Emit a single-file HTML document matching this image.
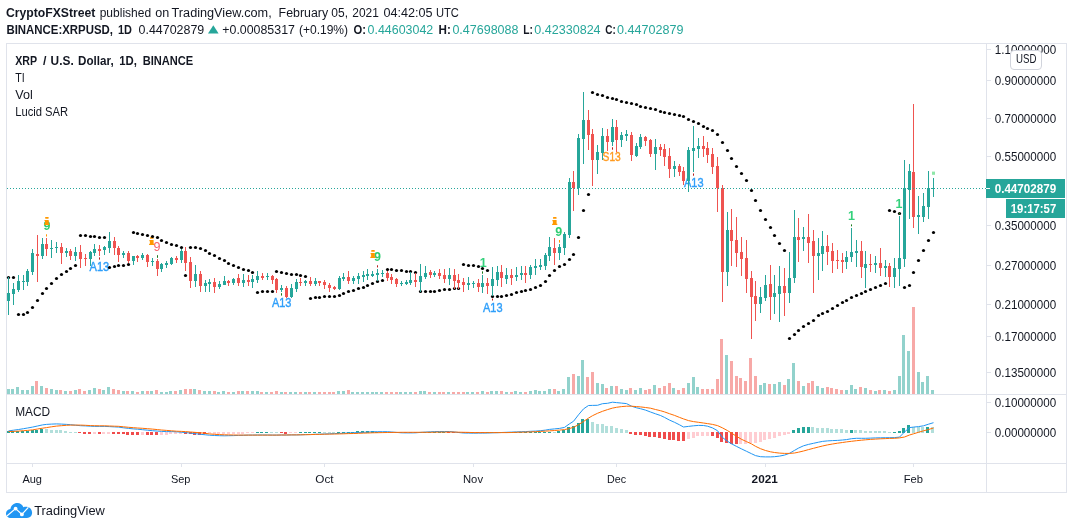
<!DOCTYPE html>
<html lang="en">
<head>
<meta charset="utf-8">
<title>XRP / U.S. Dollar, 1D, BINANCE - TradingView</title>
<style>
html,body{margin:0;padding:0;background:#fff;}
body{width:1073px;height:529px;overflow:hidden;}
svg{display:block;font-family:"Liberation Sans",sans-serif;}
</style>
</head>
<body>
<svg width="1073" height="529" viewBox="0 0 1073 529">
<rect x="0" y="0" width="1073" height="529" fill="#ffffff"/>
<text x="5.9" y="17" font-size="12.3" font-weight="bold" fill="#131722" textLength="89.5" lengthAdjust="spacingAndGlyphs">CryptoFXStreet</text>
<text x="99.7" y="17" font-size="12.3" fill="#131722" textLength="51.4" lengthAdjust="spacingAndGlyphs">published</text>
<text x="155.2" y="17" font-size="12.3" fill="#131722" textLength="14.0" lengthAdjust="spacingAndGlyphs">on</text>
<text x="171.6" y="17" font-size="12.3" fill="#131722" textLength="100.1" lengthAdjust="spacingAndGlyphs">TradingView.com,</text>
<text x="278.6" y="17" font-size="12.3" fill="#131722" textLength="49.5" lengthAdjust="spacingAndGlyphs">February</text>
<text x="331.3" y="17" font-size="12.3" fill="#131722" textLength="16.7" lengthAdjust="spacingAndGlyphs">05,</text>
<text x="352.3" y="17" font-size="12.3" fill="#131722" textLength="26.5" lengthAdjust="spacingAndGlyphs">2021</text>
<text x="383.4" y="17" font-size="12.3" fill="#131722" textLength="49.1" lengthAdjust="spacingAndGlyphs">04:42:05</text>
<text x="436.0" y="17" font-size="12.3" fill="#131722" textLength="22.9" lengthAdjust="spacingAndGlyphs">UTC</text>
<text x="6.4" y="34" font-size="12.3" font-weight="bold" fill="#131722" textLength="106.6" lengthAdjust="spacingAndGlyphs">BINANCE:XRPUSD,</text>
<text x="118" y="34" font-size="12.3" font-weight="bold" fill="#131722" textLength="14" lengthAdjust="spacingAndGlyphs">1D</text>
<text x="138.5" y="34" font-size="12.3" fill="#131722" textLength="65.8" lengthAdjust="spacingAndGlyphs">0.44702879</text>
<path d="M208 33.5 L213.3 25.3 L218.6 33.5 Z" fill="#26a69a"/>
<text x="222.3" y="34" font-size="12.3" fill="#131722" textLength="72.6" lengthAdjust="spacingAndGlyphs">+0.00085317</text>
<text x="298.9" y="34" font-size="12.3" fill="#131722" textLength="49.2" lengthAdjust="spacingAndGlyphs">(+0.19%)</text>
<text x="353.4" y="34" font-size="12.3" font-weight="bold" fill="#131722" textLength="12.5" lengthAdjust="spacingAndGlyphs">O:</text>
<text x="367.6" y="34" font-size="12.3" fill="#26a69a" textLength="65.6" lengthAdjust="spacingAndGlyphs">0.44603042</text>
<text x="438.6" y="34" font-size="12.3" font-weight="bold" fill="#131722" textLength="12.3" lengthAdjust="spacingAndGlyphs">H:</text>
<text x="452.4" y="34" font-size="12.3" fill="#26a69a" textLength="66.1" lengthAdjust="spacingAndGlyphs">0.47698088</text>
<text x="523.3" y="34" font-size="12.3" font-weight="bold" fill="#131722" textLength="9.7" lengthAdjust="spacingAndGlyphs">L:</text>
<text x="534.3" y="34" font-size="12.3" fill="#26a69a" textLength="66.3" lengthAdjust="spacingAndGlyphs">0.42330824</text>
<text x="605.3" y="34" font-size="12.3" font-weight="bold" fill="#131722" textLength="10.5" lengthAdjust="spacingAndGlyphs">C:</text>
<text x="617" y="34" font-size="12.3" fill="#26a69a" textLength="66.4" lengthAdjust="spacingAndGlyphs">0.44702879</text>
<rect x="6" y="43" width="1061" height="1" fill="#e0e3eb"/>
<rect x="6" y="492" width="1061" height="1" fill="#e0e3eb"/>
<rect x="6" y="43" width="1" height="450" fill="#e0e3eb"/>
<rect x="1066" y="43" width="1" height="450" fill="#e0e3eb"/>
<rect x="986" y="43" width="1" height="450" fill="#e0e3eb"/>
<rect x="6" y="394" width="1061" height="1" fill="#e0e3eb"/>
<rect x="6" y="463" width="1061" height="1" fill="#e0e3eb"/>
<g shape-rendering="crispEdges">
<rect x="7" y="389" width="3" height="5" fill="#92d2cc"/>
<rect x="11" y="389" width="3" height="5" fill="#92d2cc"/>
<rect x="16" y="387" width="3" height="7" fill="#92d2cc"/>
<rect x="21" y="390" width="3" height="4" fill="#92d2cc"/>
<rect x="26" y="390" width="3" height="4" fill="#92d2cc"/>
<rect x="31" y="386" width="3" height="8" fill="#92d2cc"/>
<rect x="35" y="381" width="3" height="13" fill="#f7a9a7"/>
<rect x="40" y="386" width="3" height="8" fill="#92d2cc"/>
<rect x="45" y="388" width="3" height="6" fill="#f7a9a7"/>
<rect x="50" y="389" width="3" height="5" fill="#92d2cc"/>
<rect x="55" y="390" width="3" height="4" fill="#92d2cc"/>
<rect x="59" y="390" width="3" height="4" fill="#f7a9a7"/>
<rect x="64" y="391" width="3" height="3" fill="#92d2cc"/>
<rect x="69" y="391" width="3" height="3" fill="#f7a9a7"/>
<rect x="74" y="390" width="3" height="4" fill="#92d2cc"/>
<rect x="78" y="389" width="3" height="5" fill="#f7a9a7"/>
<rect x="83" y="391" width="3" height="3" fill="#f7a9a7"/>
<rect x="88" y="390" width="3" height="4" fill="#92d2cc"/>
<rect x="93" y="388" width="3" height="6" fill="#92d2cc"/>
<rect x="98" y="389" width="3" height="5" fill="#f7a9a7"/>
<rect x="102" y="390" width="3" height="4" fill="#92d2cc"/>
<rect x="107" y="387" width="3" height="7" fill="#92d2cc"/>
<rect x="112" y="389" width="3" height="5" fill="#f7a9a7"/>
<rect x="117" y="390" width="3" height="4" fill="#f7a9a7"/>
<rect x="122" y="391" width="3" height="3" fill="#92d2cc"/>
<rect x="126" y="391" width="3" height="3" fill="#f7a9a7"/>
<rect x="131" y="391" width="3" height="3" fill="#92d2cc"/>
<rect x="136" y="392" width="3" height="2" fill="#f7a9a7"/>
<rect x="141" y="391" width="3" height="3" fill="#92d2cc"/>
<rect x="146" y="391" width="3" height="3" fill="#f7a9a7"/>
<rect x="150" y="391" width="3" height="3" fill="#92d2cc"/>
<rect x="155" y="390" width="3" height="4" fill="#f7a9a7"/>
<rect x="160" y="392" width="3" height="2" fill="#92d2cc"/>
<rect x="165" y="392" width="3" height="2" fill="#92d2cc"/>
<rect x="169" y="391" width="3" height="3" fill="#92d2cc"/>
<rect x="174" y="391" width="3" height="3" fill="#f7a9a7"/>
<rect x="179" y="390" width="3" height="4" fill="#92d2cc"/>
<rect x="184" y="389" width="3" height="5" fill="#f7a9a7"/>
<rect x="189" y="389" width="3" height="5" fill="#f7a9a7"/>
<rect x="193" y="389" width="3" height="5" fill="#92d2cc"/>
<rect x="198" y="390" width="3" height="4" fill="#f7a9a7"/>
<rect x="203" y="391" width="3" height="3" fill="#92d2cc"/>
<rect x="208" y="391" width="3" height="3" fill="#92d2cc"/>
<rect x="213" y="391" width="3" height="3" fill="#f7a9a7"/>
<rect x="217" y="392" width="3" height="2" fill="#92d2cc"/>
<rect x="222" y="391" width="3" height="3" fill="#92d2cc"/>
<rect x="227" y="392" width="3" height="2" fill="#f7a9a7"/>
<rect x="232" y="392" width="3" height="2" fill="#92d2cc"/>
<rect x="237" y="391" width="3" height="3" fill="#f7a9a7"/>
<rect x="241" y="391" width="3" height="3" fill="#92d2cc"/>
<rect x="246" y="391" width="3" height="3" fill="#f7a9a7"/>
<rect x="251" y="391" width="3" height="3" fill="#92d2cc"/>
<rect x="256" y="391" width="3" height="3" fill="#92d2cc"/>
<rect x="260" y="392" width="3" height="2" fill="#f7a9a7"/>
<rect x="265" y="392" width="3" height="2" fill="#92d2cc"/>
<rect x="270" y="392" width="3" height="2" fill="#f7a9a7"/>
<rect x="275" y="391" width="3" height="3" fill="#f7a9a7"/>
<rect x="280" y="392" width="3" height="2" fill="#92d2cc"/>
<rect x="284" y="392" width="3" height="2" fill="#f7a9a7"/>
<rect x="289" y="392" width="3" height="2" fill="#92d2cc"/>
<rect x="294" y="392" width="3" height="2" fill="#92d2cc"/>
<rect x="299" y="392" width="3" height="2" fill="#f7a9a7"/>
<rect x="304" y="392" width="3" height="2" fill="#92d2cc"/>
<rect x="308" y="392" width="3" height="2" fill="#f7a9a7"/>
<rect x="313" y="392" width="3" height="2" fill="#92d2cc"/>
<rect x="318" y="392" width="3" height="2" fill="#f7a9a7"/>
<rect x="323" y="392" width="3" height="2" fill="#f7a9a7"/>
<rect x="328" y="392" width="3" height="2" fill="#f7a9a7"/>
<rect x="332" y="392" width="3" height="2" fill="#f7a9a7"/>
<rect x="337" y="391" width="3" height="3" fill="#92d2cc"/>
<rect x="342" y="391" width="3" height="3" fill="#92d2cc"/>
<rect x="347" y="390" width="3" height="4" fill="#f7a9a7"/>
<rect x="351" y="392" width="3" height="2" fill="#92d2cc"/>
<rect x="356" y="392" width="3" height="2" fill="#92d2cc"/>
<rect x="361" y="392" width="3" height="2" fill="#92d2cc"/>
<rect x="366" y="392" width="3" height="2" fill="#92d2cc"/>
<rect x="371" y="392" width="3" height="2" fill="#92d2cc"/>
<rect x="375" y="392" width="3" height="2" fill="#92d2cc"/>
<rect x="380" y="392" width="3" height="2" fill="#92d2cc"/>
<rect x="385" y="392" width="3" height="2" fill="#f7a9a7"/>
<rect x="390" y="392" width="3" height="2" fill="#f7a9a7"/>
<rect x="395" y="392" width="3" height="2" fill="#f7a9a7"/>
<rect x="399" y="392" width="3" height="2" fill="#92d2cc"/>
<rect x="404" y="392" width="3" height="2" fill="#92d2cc"/>
<rect x="409" y="392" width="3" height="2" fill="#92d2cc"/>
<rect x="414" y="392" width="3" height="2" fill="#f7a9a7"/>
<rect x="419" y="391" width="3" height="3" fill="#92d2cc"/>
<rect x="423" y="391" width="3" height="3" fill="#92d2cc"/>
<rect x="428" y="392" width="3" height="2" fill="#f7a9a7"/>
<rect x="433" y="392" width="3" height="2" fill="#92d2cc"/>
<rect x="438" y="392" width="3" height="2" fill="#f7a9a7"/>
<rect x="442" y="392" width="3" height="2" fill="#f7a9a7"/>
<rect x="447" y="392" width="3" height="2" fill="#92d2cc"/>
<rect x="452" y="392" width="3" height="2" fill="#f7a9a7"/>
<rect x="457" y="392" width="3" height="2" fill="#f7a9a7"/>
<rect x="462" y="392" width="3" height="2" fill="#f7a9a7"/>
<rect x="466" y="392" width="3" height="2" fill="#92d2cc"/>
<rect x="471" y="392" width="3" height="2" fill="#92d2cc"/>
<rect x="476" y="392" width="3" height="2" fill="#f7a9a7"/>
<rect x="481" y="391" width="3" height="3" fill="#92d2cc"/>
<rect x="486" y="392" width="3" height="2" fill="#f7a9a7"/>
<rect x="490" y="391" width="3" height="3" fill="#92d2cc"/>
<rect x="495" y="391" width="3" height="3" fill="#92d2cc"/>
<rect x="500" y="391" width="3" height="3" fill="#f7a9a7"/>
<rect x="505" y="392" width="3" height="2" fill="#92d2cc"/>
<rect x="510" y="392" width="3" height="2" fill="#f7a9a7"/>
<rect x="514" y="391" width="3" height="3" fill="#92d2cc"/>
<rect x="519" y="392" width="3" height="2" fill="#92d2cc"/>
<rect x="524" y="392" width="3" height="2" fill="#f7a9a7"/>
<rect x="529" y="391" width="3" height="3" fill="#92d2cc"/>
<rect x="534" y="390" width="3" height="4" fill="#92d2cc"/>
<rect x="538" y="391" width="3" height="3" fill="#92d2cc"/>
<rect x="543" y="391" width="3" height="3" fill="#92d2cc"/>
<rect x="548" y="389" width="3" height="5" fill="#92d2cc"/>
<rect x="553" y="389" width="3" height="5" fill="#f7a9a7"/>
<rect x="557" y="391" width="3" height="3" fill="#92d2cc"/>
<rect x="562" y="389" width="3" height="5" fill="#92d2cc"/>
<rect x="567" y="377" width="3" height="17" fill="#92d2cc"/>
<rect x="572" y="374" width="3" height="20" fill="#f7a9a7"/>
<rect x="577" y="376" width="3" height="18" fill="#92d2cc"/>
<rect x="581" y="360" width="3" height="34" fill="#92d2cc"/>
<rect x="586" y="377" width="3" height="17" fill="#f7a9a7"/>
<rect x="591" y="372" width="3" height="22" fill="#f7a9a7"/>
<rect x="596" y="383" width="3" height="11" fill="#92d2cc"/>
<rect x="601" y="384" width="3" height="10" fill="#92d2cc"/>
<rect x="605" y="388" width="3" height="6" fill="#f7a9a7"/>
<rect x="610" y="386" width="3" height="8" fill="#92d2cc"/>
<rect x="615" y="386" width="3" height="8" fill="#f7a9a7"/>
<rect x="620" y="389" width="3" height="5" fill="#92d2cc"/>
<rect x="625" y="390" width="3" height="4" fill="#92d2cc"/>
<rect x="629" y="388" width="3" height="6" fill="#f7a9a7"/>
<rect x="634" y="390" width="3" height="4" fill="#92d2cc"/>
<rect x="639" y="388" width="3" height="6" fill="#92d2cc"/>
<rect x="644" y="390" width="3" height="4" fill="#f7a9a7"/>
<rect x="648" y="389" width="3" height="5" fill="#f7a9a7"/>
<rect x="653" y="385" width="3" height="9" fill="#92d2cc"/>
<rect x="658" y="388" width="3" height="6" fill="#f7a9a7"/>
<rect x="663" y="386" width="3" height="8" fill="#f7a9a7"/>
<rect x="668" y="383" width="3" height="11" fill="#f7a9a7"/>
<rect x="672" y="388" width="3" height="6" fill="#92d2cc"/>
<rect x="677" y="390" width="3" height="4" fill="#f7a9a7"/>
<rect x="682" y="388" width="3" height="6" fill="#f7a9a7"/>
<rect x="687" y="383" width="3" height="11" fill="#92d2cc"/>
<rect x="692" y="377" width="3" height="17" fill="#92d2cc"/>
<rect x="696" y="387" width="3" height="7" fill="#92d2cc"/>
<rect x="701" y="389" width="3" height="5" fill="#f7a9a7"/>
<rect x="706" y="389" width="3" height="5" fill="#f7a9a7"/>
<rect x="711" y="389" width="3" height="5" fill="#f7a9a7"/>
<rect x="716" y="379" width="3" height="15" fill="#f7a9a7"/>
<rect x="720" y="339" width="3" height="55" fill="#f7a9a7"/>
<rect x="725" y="355" width="3" height="39" fill="#92d2cc"/>
<rect x="730" y="361" width="3" height="33" fill="#f7a9a7"/>
<rect x="735" y="376" width="3" height="18" fill="#f7a9a7"/>
<rect x="739" y="378" width="3" height="16" fill="#f7a9a7"/>
<rect x="744" y="381" width="3" height="13" fill="#f7a9a7"/>
<rect x="749" y="358" width="3" height="36" fill="#f7a9a7"/>
<rect x="754" y="376" width="3" height="18" fill="#f7a9a7"/>
<rect x="759" y="385" width="3" height="9" fill="#92d2cc"/>
<rect x="763" y="383" width="3" height="11" fill="#92d2cc"/>
<rect x="768" y="384" width="3" height="10" fill="#f7a9a7"/>
<rect x="773" y="384" width="3" height="10" fill="#92d2cc"/>
<rect x="778" y="382" width="3" height="12" fill="#92d2cc"/>
<rect x="783" y="385" width="3" height="9" fill="#f7a9a7"/>
<rect x="787" y="379" width="3" height="15" fill="#92d2cc"/>
<rect x="792" y="363" width="3" height="31" fill="#92d2cc"/>
<rect x="797" y="381" width="3" height="13" fill="#f7a9a7"/>
<rect x="802" y="386" width="3" height="8" fill="#92d2cc"/>
<rect x="807" y="383" width="3" height="11" fill="#f7a9a7"/>
<rect x="811" y="381" width="3" height="13" fill="#f7a9a7"/>
<rect x="816" y="386" width="3" height="8" fill="#92d2cc"/>
<rect x="821" y="388" width="3" height="6" fill="#92d2cc"/>
<rect x="826" y="387" width="3" height="7" fill="#f7a9a7"/>
<rect x="830" y="388" width="3" height="6" fill="#f7a9a7"/>
<rect x="835" y="389" width="3" height="5" fill="#f7a9a7"/>
<rect x="840" y="390" width="3" height="4" fill="#f7a9a7"/>
<rect x="845" y="390" width="3" height="4" fill="#92d2cc"/>
<rect x="850" y="385" width="3" height="9" fill="#92d2cc"/>
<rect x="854" y="389" width="3" height="5" fill="#92d2cc"/>
<rect x="859" y="387" width="3" height="7" fill="#f7a9a7"/>
<rect x="864" y="388" width="3" height="6" fill="#92d2cc"/>
<rect x="869" y="390" width="3" height="4" fill="#f7a9a7"/>
<rect x="874" y="391" width="3" height="3" fill="#92d2cc"/>
<rect x="878" y="390" width="3" height="4" fill="#f7a9a7"/>
<rect x="883" y="390" width="3" height="4" fill="#92d2cc"/>
<rect x="888" y="391" width="3" height="3" fill="#f7a9a7"/>
<rect x="893" y="390" width="3" height="4" fill="#92d2cc"/>
<rect x="898" y="376" width="3" height="18" fill="#92d2cc"/>
<rect x="902" y="335" width="3" height="59" fill="#92d2cc"/>
<rect x="907" y="351" width="3" height="43" fill="#92d2cc"/>
<rect x="912" y="307" width="3" height="87" fill="#f7a9a7"/>
<rect x="917" y="372" width="3" height="22" fill="#92d2cc"/>
<rect x="921" y="382" width="3" height="12" fill="#92d2cc"/>
<rect x="926" y="376" width="3" height="18" fill="#92d2cc"/>
<rect x="931" y="390" width="3" height="4" fill="#92d2cc"/>
</g>
<text x="46.9" y="230.2" font-size="12.5" text-anchor="middle" fill="#2ecc71" font-weight="bold">9</text>
<text x="89.6" y="271.0" font-size="12.5" fill="#2f9ffa" stroke="#2f9ffa" stroke-width="0.4" textLength="19.6" lengthAdjust="spacingAndGlyphs">A13</text>
<text x="156.9" y="251.0" font-size="12.5" text-anchor="middle" fill="#f7606b">9</text>
<text x="271.9" y="306.9" font-size="12.5" fill="#2f9ffa" stroke="#2f9ffa" stroke-width="0.4" textLength="19.6" lengthAdjust="spacingAndGlyphs">A13</text>
<text x="377.5" y="261.0" font-size="12.5" text-anchor="middle" fill="#2ecc71" font-weight="bold">9</text>
<text x="483.3" y="266.6" font-size="12.5" text-anchor="middle" fill="#34d17c" font-weight="bold">1</text>
<text x="483.0" y="312.0" font-size="12.5" fill="#2f9ffa" stroke="#2f9ffa" stroke-width="0.4" textLength="19.6" lengthAdjust="spacingAndGlyphs">A13</text>
<text x="558.8" y="235.9" font-size="12.5" text-anchor="middle" fill="#2ecc71" font-weight="bold">9</text>
<text x="602.6" y="161.0" font-size="12.5" fill="#ff9a1f" stroke="#ff9a1f" stroke-width="0.4" textLength="18.2" lengthAdjust="spacingAndGlyphs">S13</text>
<text x="684.0" y="186.9" font-size="12.5" fill="#2f9ffa" stroke="#2f9ffa" stroke-width="0.4" textLength="19.6" lengthAdjust="spacingAndGlyphs">A13</text>
<text x="851.4" y="219.8" font-size="12.5" text-anchor="middle" fill="#34d17c" font-weight="bold">1</text>
<text x="899.1" y="207.8" font-size="12.5" text-anchor="middle" fill="#34d17c" font-weight="bold">1</text>
<rect x="45.1" y="217.0" width="3.6" height="1.7" rx="0.6" fill="#ff9800"/>
<path d="M44.5 220.0h4.2v3.7h0.7v1.2h-5.2v-1.2h0.8v-2.6h-0.5z" fill="#ff9800"/>
<rect x="150.0" y="237.1" width="3.6" height="1.7" rx="0.6" fill="#ff9800"/>
<path d="M149.4 240.1h4.2v3.7h0.7v1.2h-5.2v-1.2h0.8v-2.6h-0.5z" fill="#ff9800"/>
<rect x="371.2" y="250.1" width="3.6" height="1.7" rx="0.6" fill="#ff9800"/>
<path d="M370.6 253.1h4.2v3.7h0.7v1.2h-5.2v-1.2h0.8v-2.6h-0.5z" fill="#ff9800"/>
<rect x="553.0" y="217.1" width="3.6" height="1.7" rx="0.6" fill="#ff9800"/>
<path d="M552.4 220.1h4.2v3.7h0.7v1.2h-5.2v-1.2h0.8v-2.6h-0.5z" fill="#ff9800"/>
<rect x="932" y="171.6" width="3" height="3.2" fill="#8ee6a8"/>
<circle cx="8.5" cy="277.5" r="1.6" fill="#000"/>
<circle cx="13.5" cy="277.5" r="1.6" fill="#000"/>
<circle cx="18.5" cy="314.5" r="1.6" fill="#000"/>
<circle cx="23.5" cy="314.5" r="1.6" fill="#000"/>
<circle cx="27.5" cy="312.5" r="1.6" fill="#000"/>
<circle cx="32.5" cy="307.5" r="1.6" fill="#000"/>
<circle cx="37.5" cy="300.5" r="1.6" fill="#000"/>
<circle cx="42.5" cy="293.5" r="1.6" fill="#000"/>
<circle cx="46.5" cy="288.5" r="1.6" fill="#000"/>
<circle cx="51.5" cy="283.5" r="1.6" fill="#000"/>
<circle cx="56.5" cy="278.5" r="1.6" fill="#000"/>
<circle cx="61.5" cy="274.5" r="1.6" fill="#000"/>
<circle cx="66.5" cy="271.5" r="1.6" fill="#000"/>
<circle cx="70.5" cy="268.5" r="1.6" fill="#000"/>
<circle cx="75.5" cy="265.5" r="1.6" fill="#000"/>
<circle cx="80.5" cy="235.5" r="1.6" fill="#000"/>
<circle cx="85.5" cy="235.5" r="1.6" fill="#000"/>
<circle cx="90.5" cy="236.5" r="1.6" fill="#000"/>
<circle cx="94.5" cy="236.5" r="1.6" fill="#000"/>
<circle cx="99.5" cy="237.5" r="1.6" fill="#000"/>
<circle cx="104.5" cy="237.5" r="1.6" fill="#000"/>
<circle cx="109.5" cy="267.5" r="1.6" fill="#000"/>
<circle cx="114.5" cy="266.5" r="1.6" fill="#000"/>
<circle cx="118.5" cy="265.5" r="1.6" fill="#000"/>
<circle cx="123.5" cy="265.5" r="1.6" fill="#000"/>
<circle cx="128.5" cy="264.5" r="1.6" fill="#000"/>
<circle cx="133.5" cy="232.5" r="1.6" fill="#000"/>
<circle cx="137.5" cy="233.5" r="1.6" fill="#000"/>
<circle cx="142.5" cy="234.5" r="1.6" fill="#000"/>
<circle cx="147.5" cy="235.5" r="1.6" fill="#000"/>
<circle cx="152.5" cy="236.5" r="1.6" fill="#000"/>
<circle cx="157.5" cy="237.5" r="1.6" fill="#000"/>
<circle cx="161.5" cy="240.5" r="1.6" fill="#000"/>
<circle cx="166.5" cy="242.5" r="1.6" fill="#000"/>
<circle cx="171.5" cy="244.5" r="1.6" fill="#000"/>
<circle cx="176.5" cy="245.5" r="1.6" fill="#000"/>
<circle cx="181.5" cy="247.5" r="1.6" fill="#000"/>
<circle cx="185.5" cy="275.5" r="1.6" fill="#000"/>
<circle cx="190.5" cy="247.5" r="1.6" fill="#000"/>
<circle cx="195.5" cy="247.5" r="1.6" fill="#000"/>
<circle cx="200.5" cy="248.5" r="1.6" fill="#000"/>
<circle cx="205.5" cy="250.5" r="1.6" fill="#000"/>
<circle cx="209.5" cy="253.5" r="1.6" fill="#000"/>
<circle cx="214.5" cy="255.5" r="1.6" fill="#000"/>
<circle cx="219.5" cy="258.5" r="1.6" fill="#000"/>
<circle cx="224.5" cy="260.5" r="1.6" fill="#000"/>
<circle cx="228.5" cy="263.5" r="1.6" fill="#000"/>
<circle cx="233.5" cy="265.5" r="1.6" fill="#000"/>
<circle cx="238.5" cy="267.5" r="1.6" fill="#000"/>
<circle cx="243.5" cy="269.5" r="1.6" fill="#000"/>
<circle cx="248.5" cy="270.5" r="1.6" fill="#000"/>
<circle cx="252.5" cy="272.5" r="1.6" fill="#000"/>
<circle cx="257.5" cy="292.5" r="1.6" fill="#000"/>
<circle cx="262.5" cy="291.5" r="1.6" fill="#000"/>
<circle cx="267.5" cy="291.5" r="1.6" fill="#000"/>
<circle cx="272.5" cy="291.5" r="1.6" fill="#000"/>
<circle cx="276.5" cy="271.5" r="1.6" fill="#000"/>
<circle cx="281.5" cy="272.5" r="1.6" fill="#000"/>
<circle cx="286.5" cy="273.5" r="1.6" fill="#000"/>
<circle cx="291.5" cy="274.5" r="1.6" fill="#000"/>
<circle cx="296.5" cy="274.5" r="1.6" fill="#000"/>
<circle cx="300.5" cy="275.5" r="1.6" fill="#000"/>
<circle cx="305.5" cy="276.5" r="1.6" fill="#000"/>
<circle cx="310.5" cy="298.5" r="1.6" fill="#000"/>
<circle cx="315.5" cy="297.5" r="1.6" fill="#000"/>
<circle cx="319.5" cy="297.5" r="1.6" fill="#000"/>
<circle cx="324.5" cy="296.5" r="1.6" fill="#000"/>
<circle cx="329.5" cy="296.5" r="1.6" fill="#000"/>
<circle cx="334.5" cy="296.5" r="1.6" fill="#000"/>
<circle cx="339.5" cy="295.5" r="1.6" fill="#000"/>
<circle cx="343.5" cy="293.5" r="1.6" fill="#000"/>
<circle cx="348.5" cy="291.5" r="1.6" fill="#000"/>
<circle cx="353.5" cy="290.5" r="1.6" fill="#000"/>
<circle cx="358.5" cy="288.5" r="1.6" fill="#000"/>
<circle cx="363.5" cy="287.5" r="1.6" fill="#000"/>
<circle cx="367.5" cy="285.5" r="1.6" fill="#000"/>
<circle cx="372.5" cy="283.5" r="1.6" fill="#000"/>
<circle cx="377.5" cy="281.5" r="1.6" fill="#000"/>
<circle cx="382.5" cy="280.5" r="1.6" fill="#000"/>
<circle cx="387.5" cy="269.5" r="1.6" fill="#000"/>
<circle cx="391.5" cy="269.5" r="1.6" fill="#000"/>
<circle cx="396.5" cy="270.5" r="1.6" fill="#000"/>
<circle cx="401.5" cy="270.5" r="1.6" fill="#000"/>
<circle cx="406.5" cy="271.5" r="1.6" fill="#000"/>
<circle cx="410.5" cy="271.5" r="1.6" fill="#000"/>
<circle cx="415.5" cy="272.5" r="1.6" fill="#000"/>
<circle cx="420.5" cy="291.5" r="1.6" fill="#000"/>
<circle cx="425.5" cy="291.5" r="1.6" fill="#000"/>
<circle cx="430.5" cy="291.5" r="1.6" fill="#000"/>
<circle cx="434.5" cy="291.5" r="1.6" fill="#000"/>
<circle cx="439.5" cy="290.5" r="1.6" fill="#000"/>
<circle cx="444.5" cy="289.5" r="1.6" fill="#000"/>
<circle cx="449.5" cy="289.5" r="1.6" fill="#000"/>
<circle cx="454.5" cy="288.5" r="1.6" fill="#000"/>
<circle cx="458.5" cy="288.5" r="1.6" fill="#000"/>
<circle cx="463.5" cy="264.5" r="1.6" fill="#000"/>
<circle cx="468.5" cy="265.5" r="1.6" fill="#000"/>
<circle cx="473.5" cy="265.5" r="1.6" fill="#000"/>
<circle cx="478.5" cy="266.5" r="1.6" fill="#000"/>
<circle cx="482.5" cy="268.5" r="1.6" fill="#000"/>
<circle cx="487.5" cy="270.5" r="1.6" fill="#000"/>
<circle cx="492.5" cy="296.5" r="1.6" fill="#000"/>
<circle cx="497.5" cy="296.5" r="1.6" fill="#000"/>
<circle cx="501.5" cy="296.5" r="1.6" fill="#000"/>
<circle cx="506.5" cy="295.5" r="1.6" fill="#000"/>
<circle cx="511.5" cy="294.5" r="1.6" fill="#000"/>
<circle cx="516.5" cy="292.5" r="1.6" fill="#000"/>
<circle cx="521.5" cy="291.5" r="1.6" fill="#000"/>
<circle cx="525.5" cy="290.5" r="1.6" fill="#000"/>
<circle cx="530.5" cy="289.5" r="1.6" fill="#000"/>
<circle cx="535.5" cy="287.5" r="1.6" fill="#000"/>
<circle cx="540.5" cy="285.5" r="1.6" fill="#000"/>
<circle cx="545.5" cy="281.5" r="1.6" fill="#000"/>
<circle cx="549.5" cy="275.5" r="1.6" fill="#000"/>
<circle cx="554.5" cy="270.5" r="1.6" fill="#000"/>
<circle cx="559.5" cy="266.5" r="1.6" fill="#000"/>
<circle cx="564.5" cy="264.5" r="1.6" fill="#000"/>
<circle cx="569.5" cy="259.5" r="1.6" fill="#000"/>
<circle cx="573.5" cy="254.5" r="1.6" fill="#000"/>
<circle cx="578.5" cy="237.5" r="1.6" fill="#000"/>
<circle cx="583.5" cy="210.5" r="1.6" fill="#000"/>
<circle cx="588.5" cy="194.5" r="1.6" fill="#000"/>
<circle cx="592.5" cy="92.5" r="1.6" fill="#000"/>
<circle cx="597.5" cy="94.5" r="1.6" fill="#000"/>
<circle cx="602.5" cy="95.5" r="1.6" fill="#000"/>
<circle cx="607.5" cy="97.5" r="1.6" fill="#000"/>
<circle cx="612.5" cy="98.5" r="1.6" fill="#000"/>
<circle cx="616.5" cy="99.5" r="1.6" fill="#000"/>
<circle cx="621.5" cy="101.5" r="1.6" fill="#000"/>
<circle cx="626.5" cy="102.5" r="1.6" fill="#000"/>
<circle cx="631.5" cy="103.5" r="1.6" fill="#000"/>
<circle cx="636.5" cy="104.5" r="1.6" fill="#000"/>
<circle cx="640.5" cy="106.5" r="1.6" fill="#000"/>
<circle cx="645.5" cy="107.5" r="1.6" fill="#000"/>
<circle cx="650.5" cy="108.5" r="1.6" fill="#000"/>
<circle cx="655.5" cy="109.5" r="1.6" fill="#000"/>
<circle cx="660.5" cy="111.5" r="1.6" fill="#000"/>
<circle cx="664.5" cy="112.5" r="1.6" fill="#000"/>
<circle cx="669.5" cy="113.5" r="1.6" fill="#000"/>
<circle cx="674.5" cy="114.5" r="1.6" fill="#000"/>
<circle cx="679.5" cy="115.5" r="1.6" fill="#000"/>
<circle cx="683.5" cy="116.5" r="1.6" fill="#000"/>
<circle cx="688.5" cy="119.5" r="1.6" fill="#000"/>
<circle cx="693.5" cy="121.5" r="1.6" fill="#000"/>
<circle cx="698.5" cy="123.5" r="1.6" fill="#000"/>
<circle cx="703.5" cy="126.5" r="1.6" fill="#000"/>
<circle cx="707.5" cy="128.5" r="1.6" fill="#000"/>
<circle cx="712.5" cy="130.5" r="1.6" fill="#000"/>
<circle cx="717.5" cy="134.5" r="1.6" fill="#000"/>
<circle cx="722.5" cy="142.5" r="1.6" fill="#000"/>
<circle cx="727.5" cy="150.5" r="1.6" fill="#000"/>
<circle cx="731.5" cy="158.5" r="1.6" fill="#000"/>
<circle cx="736.5" cy="166.5" r="1.6" fill="#000"/>
<circle cx="741.5" cy="173.5" r="1.6" fill="#000"/>
<circle cx="746.5" cy="180.5" r="1.6" fill="#000"/>
<circle cx="751.5" cy="190.5" r="1.6" fill="#000"/>
<circle cx="755.5" cy="200.5" r="1.6" fill="#000"/>
<circle cx="760.5" cy="210.5" r="1.6" fill="#000"/>
<circle cx="765.5" cy="219.5" r="1.6" fill="#000"/>
<circle cx="770.5" cy="227.5" r="1.6" fill="#000"/>
<circle cx="774.5" cy="235.5" r="1.6" fill="#000"/>
<circle cx="779.5" cy="243.5" r="1.6" fill="#000"/>
<circle cx="784.5" cy="250.5" r="1.6" fill="#000"/>
<circle cx="789.5" cy="338.5" r="1.6" fill="#000"/>
<circle cx="794.5" cy="334.5" r="1.6" fill="#000"/>
<circle cx="798.5" cy="330.5" r="1.6" fill="#000"/>
<circle cx="803.5" cy="326.5" r="1.6" fill="#000"/>
<circle cx="808.5" cy="323.5" r="1.6" fill="#000"/>
<circle cx="813.5" cy="320.5" r="1.6" fill="#000"/>
<circle cx="818.5" cy="315.5" r="1.6" fill="#000"/>
<circle cx="822.5" cy="313.5" r="1.6" fill="#000"/>
<circle cx="827.5" cy="311.5" r="1.6" fill="#000"/>
<circle cx="832.5" cy="308.5" r="1.6" fill="#000"/>
<circle cx="837.5" cy="305.5" r="1.6" fill="#000"/>
<circle cx="842.5" cy="302.5" r="1.6" fill="#000"/>
<circle cx="846.5" cy="300.5" r="1.6" fill="#000"/>
<circle cx="851.5" cy="297.5" r="1.6" fill="#000"/>
<circle cx="856.5" cy="295.5" r="1.6" fill="#000"/>
<circle cx="861.5" cy="293.5" r="1.6" fill="#000"/>
<circle cx="865.5" cy="291.5" r="1.6" fill="#000"/>
<circle cx="870.5" cy="289.5" r="1.6" fill="#000"/>
<circle cx="875.5" cy="287.5" r="1.6" fill="#000"/>
<circle cx="880.5" cy="285.5" r="1.6" fill="#000"/>
<circle cx="885.5" cy="283.5" r="1.6" fill="#000"/>
<circle cx="889.5" cy="210.5" r="1.6" fill="#000"/>
<circle cx="894.5" cy="211.5" r="1.6" fill="#000"/>
<circle cx="899.5" cy="213.5" r="1.6" fill="#000"/>
<circle cx="904.5" cy="287.5" r="1.6" fill="#000"/>
<circle cx="909.5" cy="285.5" r="1.6" fill="#000"/>
<circle cx="913.5" cy="272.5" r="1.6" fill="#000"/>
<circle cx="918.5" cy="260.5" r="1.6" fill="#000"/>
<circle cx="923.5" cy="250.5" r="1.6" fill="#000"/>
<circle cx="928.5" cy="240.5" r="1.6" fill="#000"/>
<circle cx="933.5" cy="232.5" r="1.6" fill="#000"/>
<rect x="46" y="234.3" width="1" height="2.2" fill="#ff9800"/>
<rect x="99" y="257.4" width="1" height="2.2" fill="#b71c1c"/>
<rect x="157" y="255.2" width="1" height="2.6" fill="#1b7a1b"/>
<rect x="281" y="293.2" width="1" height="2.4" fill="#1b7a1b"/>
<rect x="377" y="265.3" width="1" height="2.1" fill="#b71c1c"/>
<rect x="482" y="271.4" width="1" height="2.3" fill="#1b7a1b"/>
<rect x="492" y="298.6" width="1" height="1.9" fill="#b71c1c"/>
<rect x="559" y="240.0" width="1" height="2.6" fill="#ff9800"/>
<rect x="612" y="147.3" width="1" height="2.4" fill="#b71c1c"/>
<rect x="693" y="173.5" width="1" height="2.2" fill="#b71c1c"/>
<rect x="851" y="224.4" width="1" height="1.9" fill="#1b7a1b"/>
<rect x="899" y="212.7" width="1" height="1.7" fill="#1b7a1b"/>
<g shape-rendering="crispEdges">
<rect x="8" y="277" width="1" height="38" fill="#26a69a"/>
<rect x="7" y="293" width="3" height="8" fill="#26a69a"/>
<rect x="13" y="283" width="1" height="22" fill="#26a69a"/>
<rect x="12" y="289" width="3" height="5" fill="#26a69a"/>
<rect x="18" y="275" width="1" height="17" fill="#26a69a"/>
<rect x="17" y="281" width="3" height="9" fill="#26a69a"/>
<rect x="23" y="275" width="1" height="15" fill="#26a69a"/>
<rect x="22" y="281" width="3" height="1" fill="#26a69a"/>
<rect x="27" y="269" width="1" height="17" fill="#26a69a"/>
<rect x="26" y="271" width="3" height="11" fill="#26a69a"/>
<rect x="32" y="249" width="1" height="26" fill="#26a69a"/>
<rect x="31" y="253" width="3" height="19" fill="#26a69a"/>
<rect x="37" y="235" width="1" height="47" fill="#ef5350"/>
<rect x="36" y="254" width="3" height="2" fill="#ef5350"/>
<rect x="42" y="238" width="1" height="21" fill="#26a69a"/>
<rect x="41" y="244" width="3" height="12" fill="#26a69a"/>
<rect x="46" y="238" width="1" height="18" fill="#ef5350"/>
<rect x="45" y="244" width="3" height="5" fill="#ef5350"/>
<rect x="51" y="240" width="1" height="18" fill="#26a69a"/>
<rect x="50" y="248" width="3" height="1" fill="#26a69a"/>
<rect x="56" y="242" width="1" height="11" fill="#26a69a"/>
<rect x="55" y="247" width="3" height="1" fill="#26a69a"/>
<rect x="61" y="243" width="1" height="21" fill="#ef5350"/>
<rect x="60" y="247" width="3" height="6" fill="#ef5350"/>
<rect x="66" y="248" width="1" height="9" fill="#26a69a"/>
<rect x="65" y="251" width="3" height="2" fill="#26a69a"/>
<rect x="70" y="249" width="1" height="11" fill="#ef5350"/>
<rect x="69" y="251" width="3" height="5" fill="#ef5350"/>
<rect x="75" y="247" width="1" height="14" fill="#26a69a"/>
<rect x="74" y="252" width="3" height="4" fill="#26a69a"/>
<rect x="80" y="245" width="1" height="23" fill="#ef5350"/>
<rect x="79" y="252" width="3" height="7" fill="#ef5350"/>
<rect x="85" y="254" width="1" height="12" fill="#ef5350"/>
<rect x="84" y="258" width="3" height="1" fill="#ef5350"/>
<rect x="90" y="251" width="1" height="15" fill="#26a69a"/>
<rect x="89" y="252" width="3" height="7" fill="#26a69a"/>
<rect x="94" y="244" width="1" height="12" fill="#26a69a"/>
<rect x="93" y="249" width="3" height="4" fill="#26a69a"/>
<rect x="99" y="245" width="1" height="11" fill="#ef5350"/>
<rect x="98" y="249" width="3" height="2" fill="#ef5350"/>
<rect x="104" y="246" width="1" height="9" fill="#26a69a"/>
<rect x="103" y="247" width="3" height="3" fill="#26a69a"/>
<rect x="109" y="232" width="1" height="21" fill="#26a69a"/>
<rect x="108" y="241" width="3" height="7" fill="#26a69a"/>
<rect x="114" y="237" width="1" height="18" fill="#ef5350"/>
<rect x="113" y="241" width="3" height="7" fill="#ef5350"/>
<rect x="118" y="246" width="1" height="16" fill="#ef5350"/>
<rect x="117" y="248" width="3" height="7" fill="#ef5350"/>
<rect x="123" y="251" width="1" height="7" fill="#26a69a"/>
<rect x="122" y="253" width="3" height="2" fill="#26a69a"/>
<rect x="128" y="251" width="1" height="12" fill="#ef5350"/>
<rect x="127" y="253" width="3" height="8" fill="#ef5350"/>
<rect x="133" y="256" width="1" height="9" fill="#26a69a"/>
<rect x="132" y="256" width="3" height="5" fill="#26a69a"/>
<rect x="137" y="255" width="1" height="7" fill="#ef5350"/>
<rect x="136" y="256" width="3" height="2" fill="#ef5350"/>
<rect x="142" y="253" width="1" height="7" fill="#26a69a"/>
<rect x="141" y="255" width="3" height="3" fill="#26a69a"/>
<rect x="147" y="254" width="1" height="13" fill="#ef5350"/>
<rect x="146" y="255" width="3" height="7" fill="#ef5350"/>
<rect x="152" y="258" width="1" height="8" fill="#26a69a"/>
<rect x="151" y="261" width="3" height="1" fill="#26a69a"/>
<rect x="157" y="259" width="1" height="17" fill="#ef5350"/>
<rect x="156" y="261" width="3" height="8" fill="#ef5350"/>
<rect x="161" y="263" width="1" height="9" fill="#26a69a"/>
<rect x="160" y="264" width="3" height="5" fill="#26a69a"/>
<rect x="166" y="261" width="1" height="7" fill="#26a69a"/>
<rect x="165" y="263" width="3" height="2" fill="#26a69a"/>
<rect x="171" y="257" width="1" height="8" fill="#26a69a"/>
<rect x="170" y="258" width="3" height="6" fill="#26a69a"/>
<rect x="176" y="256" width="1" height="7" fill="#ef5350"/>
<rect x="175" y="258" width="3" height="2" fill="#ef5350"/>
<rect x="181" y="249" width="1" height="14" fill="#26a69a"/>
<rect x="180" y="251" width="3" height="9" fill="#26a69a"/>
<rect x="185" y="247" width="1" height="24" fill="#ef5350"/>
<rect x="184" y="251" width="3" height="12" fill="#ef5350"/>
<rect x="190" y="257" width="1" height="31" fill="#ef5350"/>
<rect x="189" y="262" width="3" height="19" fill="#ef5350"/>
<rect x="195" y="265" width="1" height="22" fill="#26a69a"/>
<rect x="194" y="274" width="3" height="7" fill="#26a69a"/>
<rect x="200" y="271" width="1" height="21" fill="#ef5350"/>
<rect x="199" y="274" width="3" height="12" fill="#ef5350"/>
<rect x="205" y="280" width="1" height="12" fill="#26a69a"/>
<rect x="204" y="283" width="3" height="3" fill="#26a69a"/>
<rect x="209" y="279" width="1" height="13" fill="#26a69a"/>
<rect x="208" y="282" width="3" height="2" fill="#26a69a"/>
<rect x="214" y="278" width="1" height="15" fill="#ef5350"/>
<rect x="213" y="282" width="3" height="5" fill="#ef5350"/>
<rect x="219" y="281" width="1" height="8" fill="#26a69a"/>
<rect x="218" y="284" width="3" height="3" fill="#26a69a"/>
<rect x="224" y="276" width="1" height="9" fill="#26a69a"/>
<rect x="223" y="281" width="3" height="4" fill="#26a69a"/>
<rect x="228" y="280" width="1" height="6" fill="#ef5350"/>
<rect x="227" y="281" width="3" height="2" fill="#ef5350"/>
<rect x="233" y="278" width="1" height="7" fill="#26a69a"/>
<rect x="232" y="279" width="3" height="4" fill="#26a69a"/>
<rect x="238" y="274" width="1" height="12" fill="#ef5350"/>
<rect x="237" y="278" width="3" height="5" fill="#ef5350"/>
<rect x="243" y="274" width="1" height="13" fill="#26a69a"/>
<rect x="242" y="280" width="3" height="3" fill="#26a69a"/>
<rect x="248" y="275" width="1" height="11" fill="#ef5350"/>
<rect x="247" y="280" width="3" height="2" fill="#ef5350"/>
<rect x="252" y="275" width="1" height="13" fill="#26a69a"/>
<rect x="251" y="279" width="3" height="3" fill="#26a69a"/>
<rect x="257" y="271" width="1" height="12" fill="#26a69a"/>
<rect x="256" y="276" width="3" height="4" fill="#26a69a"/>
<rect x="262" y="273" width="1" height="7" fill="#ef5350"/>
<rect x="261" y="276" width="3" height="2" fill="#ef5350"/>
<rect x="267" y="273" width="1" height="7" fill="#26a69a"/>
<rect x="266" y="276" width="3" height="1" fill="#26a69a"/>
<rect x="272" y="275" width="1" height="9" fill="#ef5350"/>
<rect x="271" y="276" width="3" height="4" fill="#ef5350"/>
<rect x="276" y="278" width="1" height="15" fill="#ef5350"/>
<rect x="275" y="279" width="3" height="11" fill="#ef5350"/>
<rect x="281" y="285" width="1" height="7" fill="#26a69a"/>
<rect x="280" y="288" width="3" height="2" fill="#26a69a"/>
<rect x="286" y="286" width="1" height="12" fill="#ef5350"/>
<rect x="285" y="288" width="3" height="9" fill="#ef5350"/>
<rect x="291" y="284" width="1" height="14" fill="#26a69a"/>
<rect x="290" y="288" width="3" height="9" fill="#26a69a"/>
<rect x="296" y="279" width="1" height="13" fill="#26a69a"/>
<rect x="295" y="282" width="3" height="7" fill="#26a69a"/>
<rect x="300" y="278" width="1" height="8" fill="#ef5350"/>
<rect x="299" y="282" width="3" height="1" fill="#ef5350"/>
<rect x="305" y="280" width="1" height="6" fill="#26a69a"/>
<rect x="304" y="281" width="3" height="2" fill="#26a69a"/>
<rect x="310" y="277" width="1" height="9" fill="#ef5350"/>
<rect x="309" y="281" width="3" height="3" fill="#ef5350"/>
<rect x="315" y="278" width="1" height="8" fill="#26a69a"/>
<rect x="314" y="281" width="3" height="3" fill="#26a69a"/>
<rect x="319" y="281" width="1" height="5" fill="#ef5350"/>
<rect x="318" y="281" width="3" height="2" fill="#ef5350"/>
<rect x="324" y="280" width="1" height="9" fill="#ef5350"/>
<rect x="323" y="282" width="3" height="3" fill="#ef5350"/>
<rect x="329" y="283" width="1" height="9" fill="#ef5350"/>
<rect x="328" y="285" width="3" height="3" fill="#ef5350"/>
<rect x="334" y="286" width="1" height="4" fill="#ef5350"/>
<rect x="333" y="287" width="3" height="2" fill="#ef5350"/>
<rect x="339" y="276" width="1" height="14" fill="#26a69a"/>
<rect x="338" y="278" width="3" height="11" fill="#26a69a"/>
<rect x="343" y="273" width="1" height="8" fill="#26a69a"/>
<rect x="342" y="277" width="3" height="2" fill="#26a69a"/>
<rect x="348" y="271" width="1" height="13" fill="#ef5350"/>
<rect x="347" y="277" width="3" height="4" fill="#ef5350"/>
<rect x="353" y="276" width="1" height="8" fill="#26a69a"/>
<rect x="352" y="278" width="3" height="3" fill="#26a69a"/>
<rect x="358" y="273" width="1" height="11" fill="#26a69a"/>
<rect x="357" y="276" width="3" height="3" fill="#26a69a"/>
<rect x="363" y="271" width="1" height="11" fill="#26a69a"/>
<rect x="362" y="275" width="3" height="2" fill="#26a69a"/>
<rect x="367" y="269" width="1" height="11" fill="#26a69a"/>
<rect x="366" y="274" width="3" height="2" fill="#26a69a"/>
<rect x="372" y="271" width="1" height="6" fill="#26a69a"/>
<rect x="371" y="274" width="3" height="2" fill="#26a69a"/>
<rect x="377" y="269" width="1" height="12" fill="#26a69a"/>
<rect x="376" y="273" width="3" height="2" fill="#26a69a"/>
<rect x="382" y="270" width="1" height="7" fill="#26a69a"/>
<rect x="381" y="273" width="3" height="1" fill="#26a69a"/>
<rect x="387" y="271" width="1" height="10" fill="#ef5350"/>
<rect x="386" y="273" width="3" height="5" fill="#ef5350"/>
<rect x="391" y="274" width="1" height="10" fill="#ef5350"/>
<rect x="390" y="277" width="3" height="3" fill="#ef5350"/>
<rect x="396" y="278" width="1" height="9" fill="#ef5350"/>
<rect x="395" y="279" width="3" height="5" fill="#ef5350"/>
<rect x="401" y="281" width="1" height="5" fill="#26a69a"/>
<rect x="400" y="283" width="3" height="1" fill="#26a69a"/>
<rect x="406" y="280" width="1" height="5" fill="#26a69a"/>
<rect x="405" y="282" width="3" height="2" fill="#26a69a"/>
<rect x="410" y="272" width="1" height="13" fill="#26a69a"/>
<rect x="409" y="280" width="3" height="3" fill="#26a69a"/>
<rect x="415" y="273" width="1" height="14" fill="#ef5350"/>
<rect x="414" y="280" width="3" height="2" fill="#ef5350"/>
<rect x="420" y="264" width="1" height="28" fill="#26a69a"/>
<rect x="419" y="276" width="3" height="6" fill="#26a69a"/>
<rect x="425" y="266" width="1" height="13" fill="#26a69a"/>
<rect x="424" y="273" width="3" height="4" fill="#26a69a"/>
<rect x="430" y="270" width="1" height="8" fill="#ef5350"/>
<rect x="429" y="272" width="3" height="3" fill="#ef5350"/>
<rect x="434" y="271" width="1" height="6" fill="#26a69a"/>
<rect x="433" y="273" width="3" height="2" fill="#26a69a"/>
<rect x="439" y="269" width="1" height="10" fill="#ef5350"/>
<rect x="438" y="273" width="3" height="3" fill="#ef5350"/>
<rect x="444" y="269" width="1" height="14" fill="#ef5350"/>
<rect x="443" y="275" width="3" height="4" fill="#ef5350"/>
<rect x="449" y="268" width="1" height="17" fill="#26a69a"/>
<rect x="448" y="275" width="3" height="4" fill="#26a69a"/>
<rect x="454" y="269" width="1" height="20" fill="#ef5350"/>
<rect x="453" y="275" width="3" height="6" fill="#ef5350"/>
<rect x="458" y="274" width="1" height="15" fill="#ef5350"/>
<rect x="457" y="280" width="3" height="3" fill="#ef5350"/>
<rect x="463" y="278" width="1" height="14" fill="#ef5350"/>
<rect x="462" y="282" width="3" height="3" fill="#ef5350"/>
<rect x="468" y="277" width="1" height="13" fill="#26a69a"/>
<rect x="467" y="283" width="3" height="2" fill="#26a69a"/>
<rect x="473" y="281" width="1" height="7" fill="#26a69a"/>
<rect x="472" y="283" width="3" height="1" fill="#26a69a"/>
<rect x="478" y="279" width="1" height="13" fill="#ef5350"/>
<rect x="477" y="283" width="3" height="4" fill="#ef5350"/>
<rect x="482" y="275" width="1" height="18" fill="#26a69a"/>
<rect x="481" y="283" width="3" height="4" fill="#26a69a"/>
<rect x="487" y="278" width="1" height="16" fill="#ef5350"/>
<rect x="486" y="283" width="3" height="3" fill="#ef5350"/>
<rect x="492" y="267" width="1" height="29" fill="#26a69a"/>
<rect x="491" y="279" width="3" height="7" fill="#26a69a"/>
<rect x="497" y="266" width="1" height="20" fill="#26a69a"/>
<rect x="496" y="272" width="3" height="8" fill="#26a69a"/>
<rect x="501" y="265" width="1" height="22" fill="#ef5350"/>
<rect x="500" y="272" width="3" height="6" fill="#ef5350"/>
<rect x="506" y="268" width="1" height="16" fill="#26a69a"/>
<rect x="505" y="275" width="3" height="4" fill="#26a69a"/>
<rect x="511" y="269" width="1" height="16" fill="#ef5350"/>
<rect x="510" y="275" width="3" height="3" fill="#ef5350"/>
<rect x="516" y="267" width="1" height="14" fill="#26a69a"/>
<rect x="515" y="275" width="3" height="2" fill="#26a69a"/>
<rect x="521" y="266" width="1" height="14" fill="#26a69a"/>
<rect x="520" y="273" width="3" height="2" fill="#26a69a"/>
<rect x="525" y="266" width="1" height="17" fill="#ef5350"/>
<rect x="524" y="273" width="3" height="2" fill="#ef5350"/>
<rect x="530" y="265" width="1" height="14" fill="#26a69a"/>
<rect x="529" y="267" width="3" height="8" fill="#26a69a"/>
<rect x="535" y="259" width="1" height="16" fill="#26a69a"/>
<rect x="534" y="266" width="3" height="2" fill="#26a69a"/>
<rect x="540" y="259" width="1" height="11" fill="#26a69a"/>
<rect x="539" y="265" width="3" height="2" fill="#26a69a"/>
<rect x="545" y="253" width="1" height="17" fill="#26a69a"/>
<rect x="544" y="255" width="3" height="11" fill="#26a69a"/>
<rect x="549" y="237" width="1" height="24" fill="#26a69a"/>
<rect x="548" y="247" width="3" height="9" fill="#26a69a"/>
<rect x="554" y="238" width="1" height="27" fill="#ef5350"/>
<rect x="553" y="248" width="3" height="5" fill="#ef5350"/>
<rect x="559" y="244" width="1" height="16" fill="#26a69a"/>
<rect x="558" y="247" width="3" height="6" fill="#26a69a"/>
<rect x="564" y="232" width="1" height="23" fill="#26a69a"/>
<rect x="563" y="234" width="3" height="14" fill="#26a69a"/>
<rect x="569" y="178" width="1" height="60" fill="#26a69a"/>
<rect x="568" y="182" width="3" height="53" fill="#26a69a"/>
<rect x="573" y="171" width="1" height="40" fill="#ef5350"/>
<rect x="572" y="182" width="3" height="6" fill="#ef5350"/>
<rect x="578" y="134" width="1" height="61" fill="#26a69a"/>
<rect x="577" y="138" width="3" height="50" fill="#26a69a"/>
<rect x="583" y="92" width="1" height="72" fill="#26a69a"/>
<rect x="582" y="120" width="3" height="19" fill="#26a69a"/>
<rect x="588" y="110" width="1" height="40" fill="#ef5350"/>
<rect x="587" y="120" width="3" height="15" fill="#ef5350"/>
<rect x="592" y="129" width="1" height="57" fill="#ef5350"/>
<rect x="591" y="134" width="3" height="26" fill="#ef5350"/>
<rect x="597" y="145" width="1" height="29" fill="#26a69a"/>
<rect x="596" y="152" width="3" height="8" fill="#26a69a"/>
<rect x="602" y="128" width="1" height="32" fill="#26a69a"/>
<rect x="601" y="136" width="3" height="17" fill="#26a69a"/>
<rect x="607" y="129" width="1" height="22" fill="#ef5350"/>
<rect x="606" y="136" width="3" height="6" fill="#ef5350"/>
<rect x="612" y="119" width="1" height="27" fill="#26a69a"/>
<rect x="611" y="127" width="3" height="15" fill="#26a69a"/>
<rect x="616" y="120" width="1" height="32" fill="#ef5350"/>
<rect x="615" y="127" width="3" height="13" fill="#ef5350"/>
<rect x="621" y="132" width="1" height="15" fill="#26a69a"/>
<rect x="620" y="135" width="3" height="5" fill="#26a69a"/>
<rect x="626" y="130" width="1" height="11" fill="#26a69a"/>
<rect x="625" y="134" width="3" height="2" fill="#26a69a"/>
<rect x="631" y="132" width="1" height="29" fill="#ef5350"/>
<rect x="630" y="135" width="3" height="20" fill="#ef5350"/>
<rect x="636" y="143" width="1" height="14" fill="#26a69a"/>
<rect x="635" y="146" width="3" height="10" fill="#26a69a"/>
<rect x="640" y="134" width="1" height="15" fill="#26a69a"/>
<rect x="639" y="137" width="3" height="10" fill="#26a69a"/>
<rect x="645" y="136" width="1" height="10" fill="#ef5350"/>
<rect x="644" y="137" width="3" height="4" fill="#ef5350"/>
<rect x="650" y="139" width="1" height="18" fill="#ef5350"/>
<rect x="649" y="140" width="3" height="14" fill="#ef5350"/>
<rect x="655" y="139" width="1" height="31" fill="#26a69a"/>
<rect x="654" y="147" width="3" height="7" fill="#26a69a"/>
<rect x="660" y="144" width="1" height="12" fill="#ef5350"/>
<rect x="659" y="147" width="3" height="3" fill="#ef5350"/>
<rect x="664" y="144" width="1" height="22" fill="#ef5350"/>
<rect x="663" y="149" width="3" height="8" fill="#ef5350"/>
<rect x="669" y="148" width="1" height="30" fill="#ef5350"/>
<rect x="668" y="156" width="3" height="13" fill="#ef5350"/>
<rect x="674" y="161" width="1" height="16" fill="#26a69a"/>
<rect x="673" y="166" width="3" height="3" fill="#26a69a"/>
<rect x="679" y="164" width="1" height="12" fill="#ef5350"/>
<rect x="678" y="166" width="3" height="6" fill="#ef5350"/>
<rect x="683" y="167" width="1" height="18" fill="#ef5350"/>
<rect x="682" y="171" width="3" height="10" fill="#ef5350"/>
<rect x="688" y="147" width="1" height="45" fill="#26a69a"/>
<rect x="687" y="150" width="3" height="31" fill="#26a69a"/>
<rect x="693" y="126" width="1" height="46" fill="#26a69a"/>
<rect x="692" y="148" width="3" height="3" fill="#26a69a"/>
<rect x="698" y="138" width="1" height="20" fill="#26a69a"/>
<rect x="697" y="146" width="3" height="3" fill="#26a69a"/>
<rect x="703" y="136" width="1" height="21" fill="#ef5350"/>
<rect x="702" y="146" width="3" height="3" fill="#ef5350"/>
<rect x="707" y="142" width="1" height="21" fill="#ef5350"/>
<rect x="706" y="148" width="3" height="7" fill="#ef5350"/>
<rect x="712" y="148" width="1" height="26" fill="#ef5350"/>
<rect x="711" y="154" width="3" height="13" fill="#ef5350"/>
<rect x="717" y="157" width="1" height="55" fill="#ef5350"/>
<rect x="716" y="166" width="3" height="22" fill="#ef5350"/>
<rect x="722" y="185" width="1" height="117" fill="#ef5350"/>
<rect x="721" y="188" width="3" height="84" fill="#ef5350"/>
<rect x="727" y="212" width="1" height="74" fill="#26a69a"/>
<rect x="726" y="230" width="3" height="42" fill="#26a69a"/>
<rect x="731" y="209" width="1" height="57" fill="#ef5350"/>
<rect x="730" y="230" width="3" height="11" fill="#ef5350"/>
<rect x="736" y="217" width="1" height="50" fill="#ef5350"/>
<rect x="735" y="240" width="3" height="13" fill="#ef5350"/>
<rect x="741" y="237" width="1" height="39" fill="#ef5350"/>
<rect x="740" y="252" width="3" height="7" fill="#ef5350"/>
<rect x="746" y="240" width="1" height="53" fill="#ef5350"/>
<rect x="745" y="258" width="3" height="21" fill="#ef5350"/>
<rect x="751" y="271" width="1" height="68" fill="#ef5350"/>
<rect x="750" y="278" width="3" height="19" fill="#ef5350"/>
<rect x="755" y="281" width="1" height="40" fill="#ef5350"/>
<rect x="754" y="296" width="3" height="8" fill="#ef5350"/>
<rect x="760" y="287" width="1" height="26" fill="#26a69a"/>
<rect x="759" y="297" width="3" height="7" fill="#26a69a"/>
<rect x="765" y="275" width="1" height="26" fill="#26a69a"/>
<rect x="764" y="285" width="3" height="13" fill="#26a69a"/>
<rect x="770" y="265" width="1" height="55" fill="#ef5350"/>
<rect x="769" y="284" width="3" height="13" fill="#ef5350"/>
<rect x="774" y="275" width="1" height="39" fill="#26a69a"/>
<rect x="773" y="293" width="3" height="4" fill="#26a69a"/>
<rect x="779" y="266" width="1" height="56" fill="#26a69a"/>
<rect x="778" y="286" width="3" height="8" fill="#26a69a"/>
<rect x="784" y="268" width="1" height="48" fill="#ef5350"/>
<rect x="783" y="286" width="3" height="7" fill="#ef5350"/>
<rect x="789" y="252" width="1" height="51" fill="#26a69a"/>
<rect x="788" y="278" width="3" height="15" fill="#26a69a"/>
<rect x="794" y="210" width="1" height="73" fill="#26a69a"/>
<rect x="793" y="237" width="3" height="41" fill="#26a69a"/>
<rect x="798" y="218" width="1" height="44" fill="#ef5350"/>
<rect x="797" y="237" width="3" height="3" fill="#ef5350"/>
<rect x="803" y="227" width="1" height="24" fill="#26a69a"/>
<rect x="802" y="237" width="3" height="2" fill="#26a69a"/>
<rect x="808" y="214" width="1" height="49" fill="#ef5350"/>
<rect x="807" y="237" width="3" height="6" fill="#ef5350"/>
<rect x="813" y="230" width="1" height="63" fill="#ef5350"/>
<rect x="812" y="241" width="3" height="15" fill="#ef5350"/>
<rect x="818" y="238" width="1" height="42" fill="#26a69a"/>
<rect x="817" y="253" width="3" height="3" fill="#26a69a"/>
<rect x="822" y="231" width="1" height="40" fill="#26a69a"/>
<rect x="821" y="246" width="3" height="8" fill="#26a69a"/>
<rect x="827" y="235" width="1" height="30" fill="#ef5350"/>
<rect x="826" y="246" width="3" height="6" fill="#ef5350"/>
<rect x="832" y="243" width="1" height="30" fill="#ef5350"/>
<rect x="831" y="251" width="3" height="10" fill="#ef5350"/>
<rect x="837" y="250" width="1" height="19" fill="#ef5350"/>
<rect x="836" y="260" width="3" height="1" fill="#ef5350"/>
<rect x="842" y="253" width="1" height="20" fill="#ef5350"/>
<rect x="841" y="260" width="3" height="2" fill="#ef5350"/>
<rect x="846" y="251" width="1" height="18" fill="#26a69a"/>
<rect x="845" y="257" width="3" height="5" fill="#26a69a"/>
<rect x="851" y="228" width="1" height="34" fill="#26a69a"/>
<rect x="850" y="252" width="3" height="5" fill="#26a69a"/>
<rect x="856" y="240" width="1" height="27" fill="#26a69a"/>
<rect x="855" y="251" width="3" height="2" fill="#26a69a"/>
<rect x="861" y="241" width="1" height="37" fill="#ef5350"/>
<rect x="860" y="251" width="3" height="16" fill="#ef5350"/>
<rect x="865" y="251" width="1" height="37" fill="#26a69a"/>
<rect x="864" y="264" width="3" height="4" fill="#26a69a"/>
<rect x="870" y="254" width="1" height="18" fill="#ef5350"/>
<rect x="869" y="264" width="3" height="1" fill="#ef5350"/>
<rect x="875" y="256" width="1" height="17" fill="#26a69a"/>
<rect x="874" y="263" width="3" height="2" fill="#26a69a"/>
<rect x="880" y="248" width="1" height="28" fill="#ef5350"/>
<rect x="879" y="263" width="3" height="5" fill="#ef5350"/>
<rect x="885" y="260" width="1" height="17" fill="#26a69a"/>
<rect x="884" y="266" width="3" height="2" fill="#26a69a"/>
<rect x="889" y="263" width="1" height="24" fill="#ef5350"/>
<rect x="888" y="266" width="3" height="11" fill="#ef5350"/>
<rect x="894" y="258" width="1" height="30" fill="#26a69a"/>
<rect x="893" y="268" width="3" height="9" fill="#26a69a"/>
<rect x="899" y="216" width="1" height="70" fill="#26a69a"/>
<rect x="898" y="258" width="3" height="11" fill="#26a69a"/>
<rect x="904" y="160" width="1" height="107" fill="#26a69a"/>
<rect x="903" y="188" width="3" height="71" fill="#26a69a"/>
<rect x="909" y="164" width="1" height="55" fill="#26a69a"/>
<rect x="908" y="171" width="3" height="19" fill="#26a69a"/>
<rect x="913" y="104" width="1" height="124" fill="#ef5350"/>
<rect x="912" y="172" width="3" height="45" fill="#ef5350"/>
<rect x="918" y="196" width="1" height="38" fill="#26a69a"/>
<rect x="917" y="215" width="3" height="2" fill="#26a69a"/>
<rect x="923" y="193" width="1" height="29" fill="#26a69a"/>
<rect x="922" y="206" width="3" height="11" fill="#26a69a"/>
<rect x="928" y="171" width="1" height="48" fill="#26a69a"/>
<rect x="927" y="188" width="3" height="19" fill="#26a69a"/>
<rect x="933" y="178" width="1" height="19" fill="#26a69a"/>
<rect x="932" y="188" width="3" height="1" fill="#26a69a"/>
<path d="M7 188.5h1M10 188.5h1M13 188.5h1M16 188.5h1M19 188.5h1M22 188.5h1M25 188.5h1M28 188.5h1M31 188.5h1M34 188.5h1M37 188.5h1M40 188.5h1M43 188.5h1M46 188.5h1M49 188.5h1M52 188.5h1M55 188.5h1M58 188.5h1M61 188.5h1M64 188.5h1M67 188.5h1M70 188.5h1M73 188.5h1M76 188.5h1M79 188.5h1M82 188.5h1M85 188.5h1M88 188.5h1M91 188.5h1M94 188.5h1M97 188.5h1M100 188.5h1M103 188.5h1M106 188.5h1M109 188.5h1M112 188.5h1M115 188.5h1M118 188.5h1M121 188.5h1M124 188.5h1M127 188.5h1M130 188.5h1M133 188.5h1M136 188.5h1M139 188.5h1M142 188.5h1M145 188.5h1M148 188.5h1M151 188.5h1M154 188.5h1M157 188.5h1M160 188.5h1M163 188.5h1M166 188.5h1M169 188.5h1M172 188.5h1M175 188.5h1M178 188.5h1M181 188.5h1M184 188.5h1M187 188.5h1M190 188.5h1M193 188.5h1M196 188.5h1M199 188.5h1M202 188.5h1M205 188.5h1M208 188.5h1M211 188.5h1M214 188.5h1M217 188.5h1M220 188.5h1M223 188.5h1M226 188.5h1M229 188.5h1M232 188.5h1M235 188.5h1M238 188.5h1M241 188.5h1M244 188.5h1M247 188.5h1M250 188.5h1M253 188.5h1M256 188.5h1M259 188.5h1M262 188.5h1M265 188.5h1M268 188.5h1M271 188.5h1M274 188.5h1M277 188.5h1M280 188.5h1M283 188.5h1M286 188.5h1M289 188.5h1M292 188.5h1M295 188.5h1M298 188.5h1M301 188.5h1M304 188.5h1M307 188.5h1M310 188.5h1M313 188.5h1M316 188.5h1M319 188.5h1M322 188.5h1M325 188.5h1M328 188.5h1M331 188.5h1M334 188.5h1M337 188.5h1M340 188.5h1M343 188.5h1M346 188.5h1M349 188.5h1M352 188.5h1M355 188.5h1M358 188.5h1M361 188.5h1M364 188.5h1M367 188.5h1M370 188.5h1M373 188.5h1M376 188.5h1M379 188.5h1M382 188.5h1M385 188.5h1M388 188.5h1M391 188.5h1M394 188.5h1M397 188.5h1M400 188.5h1M403 188.5h1M406 188.5h1M409 188.5h1M412 188.5h1M415 188.5h1M418 188.5h1M421 188.5h1M424 188.5h1M427 188.5h1M430 188.5h1M433 188.5h1M436 188.5h1M439 188.5h1M442 188.5h1M445 188.5h1M448 188.5h1M451 188.5h1M454 188.5h1M457 188.5h1M460 188.5h1M463 188.5h1M466 188.5h1M469 188.5h1M472 188.5h1M475 188.5h1M478 188.5h1M481 188.5h1M484 188.5h1M487 188.5h1M490 188.5h1M493 188.5h1M496 188.5h1M499 188.5h1M502 188.5h1M505 188.5h1M508 188.5h1M511 188.5h1M514 188.5h1M517 188.5h1M520 188.5h1M523 188.5h1M526 188.5h1M529 188.5h1M532 188.5h1M535 188.5h1M538 188.5h1M541 188.5h1M544 188.5h1M547 188.5h1M550 188.5h1M553 188.5h1M556 188.5h1M559 188.5h1M562 188.5h1M565 188.5h1M568 188.5h1M571 188.5h1M574 188.5h1M577 188.5h1M580 188.5h1M583 188.5h1M586 188.5h1M589 188.5h1M592 188.5h1M595 188.5h1M598 188.5h1M601 188.5h1M604 188.5h1M607 188.5h1M610 188.5h1M613 188.5h1M616 188.5h1M619 188.5h1M622 188.5h1M625 188.5h1M628 188.5h1M631 188.5h1M634 188.5h1M637 188.5h1M640 188.5h1M643 188.5h1M646 188.5h1M649 188.5h1M652 188.5h1M655 188.5h1M658 188.5h1M661 188.5h1M664 188.5h1M667 188.5h1M670 188.5h1M673 188.5h1M676 188.5h1M679 188.5h1M682 188.5h1M685 188.5h1M688 188.5h1M691 188.5h1M694 188.5h1M697 188.5h1M700 188.5h1M703 188.5h1M706 188.5h1M709 188.5h1M712 188.5h1M715 188.5h1M718 188.5h1M721 188.5h1M724 188.5h1M727 188.5h1M730 188.5h1M733 188.5h1M736 188.5h1M739 188.5h1M742 188.5h1M745 188.5h1M748 188.5h1M751 188.5h1M754 188.5h1M757 188.5h1M760 188.5h1M763 188.5h1M766 188.5h1M769 188.5h1M772 188.5h1M775 188.5h1M778 188.5h1M781 188.5h1M784 188.5h1M787 188.5h1M790 188.5h1M793 188.5h1M796 188.5h1M799 188.5h1M802 188.5h1M805 188.5h1M808 188.5h1M811 188.5h1M814 188.5h1M817 188.5h1M820 188.5h1M823 188.5h1M826 188.5h1M829 188.5h1M832 188.5h1M835 188.5h1M838 188.5h1M841 188.5h1M844 188.5h1M847 188.5h1M850 188.5h1M853 188.5h1M856 188.5h1M859 188.5h1M862 188.5h1M865 188.5h1M868 188.5h1M871 188.5h1M874 188.5h1M877 188.5h1M880 188.5h1M883 188.5h1M886 188.5h1M889 188.5h1M892 188.5h1M895 188.5h1M898 188.5h1M901 188.5h1M904 188.5h1M907 188.5h1M910 188.5h1M913 188.5h1M916 188.5h1M919 188.5h1M922 188.5h1M925 188.5h1M928 188.5h1M931 188.5h1M934 188.5h1M937 188.5h1M940 188.5h1M943 188.5h1M946 188.5h1M949 188.5h1M952 188.5h1M955 188.5h1M958 188.5h1M961 188.5h1M964 188.5h1M967 188.5h1M970 188.5h1M973 188.5h1M976 188.5h1M979 188.5h1M982 188.5h1M985 188.5h1" stroke="#26a69a" stroke-width="1" fill="none"/>
<rect x="7" y="431" width="3" height="2" fill="#26a69a"/>
<rect x="11" y="431" width="3" height="2" fill="#26a69a"/>
<rect x="16" y="431" width="3" height="2" fill="#26a69a"/>
<rect x="21" y="431" width="3" height="2" fill="#26a69a"/>
<rect x="26" y="431" width="3" height="2" fill="#26a69a"/>
<rect x="31" y="430" width="3" height="3" fill="#26a69a"/>
<rect x="35" y="430" width="3" height="3" fill="#26a69a"/>
<rect x="40" y="429" width="3" height="4" fill="#26a69a"/>
<rect x="45" y="429" width="3" height="4" fill="#b2dfdb"/>
<rect x="50" y="430" width="3" height="3" fill="#b2dfdb"/>
<rect x="55" y="430" width="3" height="3" fill="#b2dfdb"/>
<rect x="59" y="430" width="3" height="3" fill="#b2dfdb"/>
<rect x="64" y="431" width="3" height="2" fill="#b2dfdb"/>
<rect x="69" y="432" width="3" height="1" fill="#b2dfdb"/>
<rect x="74" y="432" width="3" height="1" fill="#b2dfdb"/>
<rect x="78" y="432" width="3" height="1" fill="#f04c4c"/>
<rect x="83" y="432" width="3" height="2" fill="#f04c4c"/>
<rect x="88" y="432" width="3" height="2" fill="#f04c4c"/>
<rect x="93" y="432" width="3" height="2" fill="#ffcdd2"/>
<rect x="98" y="432" width="3" height="2" fill="#f04c4c"/>
<rect x="102" y="432" width="3" height="2" fill="#ffcdd2"/>
<rect x="107" y="432" width="3" height="2" fill="#ffcdd2"/>
<rect x="112" y="432" width="3" height="2" fill="#f04c4c"/>
<rect x="117" y="432" width="3" height="2" fill="#f04c4c"/>
<rect x="122" y="432" width="3" height="2" fill="#f04c4c"/>
<rect x="126" y="432" width="3" height="3" fill="#f04c4c"/>
<rect x="131" y="432" width="3" height="3" fill="#f04c4c"/>
<rect x="136" y="432" width="3" height="3" fill="#f04c4c"/>
<rect x="141" y="432" width="3" height="3" fill="#ffcdd2"/>
<rect x="146" y="432" width="3" height="3" fill="#f04c4c"/>
<rect x="150" y="432" width="3" height="3" fill="#f04c4c"/>
<rect x="155" y="432" width="3" height="3" fill="#f04c4c"/>
<rect x="160" y="432" width="3" height="3" fill="#ffcdd2"/>
<rect x="165" y="432" width="3" height="3" fill="#ffcdd2"/>
<rect x="169" y="432" width="3" height="2" fill="#ffcdd2"/>
<rect x="174" y="432" width="3" height="2" fill="#ffcdd2"/>
<rect x="179" y="432" width="3" height="2" fill="#ffcdd2"/>
<rect x="184" y="432" width="3" height="2" fill="#f04c4c"/>
<rect x="189" y="432" width="3" height="2" fill="#f04c4c"/>
<rect x="193" y="432" width="3" height="3" fill="#f04c4c"/>
<rect x="198" y="432" width="3" height="3" fill="#f04c4c"/>
<rect x="203" y="432" width="3" height="2" fill="#f04c4c"/>
<rect x="208" y="432" width="3" height="1" fill="#ffcdd2"/>
<rect x="213" y="432" width="3" height="2" fill="#ffcdd2"/>
<rect x="217" y="432" width="3" height="2" fill="#ffcdd2"/>
<rect x="222" y="432" width="3" height="2" fill="#ffcdd2"/>
<rect x="227" y="432" width="3" height="2" fill="#ffcdd2"/>
<rect x="232" y="432" width="3" height="2" fill="#ffcdd2"/>
<rect x="237" y="432" width="3" height="2" fill="#ffcdd2"/>
<rect x="241" y="432" width="3" height="2" fill="#ffcdd2"/>
<rect x="246" y="432" width="3" height="1" fill="#ffcdd2"/>
<rect x="251" y="432" width="3" height="1" fill="#ffcdd2"/>
<rect x="256" y="432" width="3" height="1" fill="#26a69a"/>
<rect x="260" y="432" width="3" height="1" fill="#26a69a"/>
<rect x="265" y="432" width="3" height="1" fill="#26a69a"/>
<rect x="270" y="432" width="3" height="1" fill="#b2dfdb"/>
<rect x="275" y="432" width="3" height="1" fill="#b2dfdb"/>
<rect x="280" y="432" width="3" height="1" fill="#f04c4c"/>
<rect x="284" y="432" width="3" height="2" fill="#f04c4c"/>
<rect x="289" y="432" width="3" height="1" fill="#ffcdd2"/>
<rect x="294" y="432" width="3" height="1" fill="#ffcdd2"/>
<rect x="299" y="432" width="3" height="1" fill="#26a69a"/>
<rect x="304" y="432" width="3" height="1" fill="#26a69a"/>
<rect x="308" y="432" width="3" height="1" fill="#26a69a"/>
<rect x="313" y="432" width="3" height="1" fill="#26a69a"/>
<rect x="318" y="432" width="3" height="1" fill="#26a69a"/>
<rect x="323" y="432" width="3" height="1" fill="#b2dfdb"/>
<rect x="328" y="432" width="3" height="1" fill="#b2dfdb"/>
<rect x="332" y="432" width="3" height="1" fill="#b2dfdb"/>
<rect x="337" y="432" width="3" height="1" fill="#26a69a"/>
<rect x="342" y="432" width="3" height="1" fill="#26a69a"/>
<rect x="347" y="432" width="3" height="1" fill="#26a69a"/>
<rect x="351" y="432" width="3" height="1" fill="#26a69a"/>
<rect x="356" y="431" width="3" height="2" fill="#26a69a"/>
<rect x="361" y="431" width="3" height="2" fill="#26a69a"/>
<rect x="366" y="431" width="3" height="2" fill="#26a69a"/>
<rect x="371" y="431" width="3" height="2" fill="#26a69a"/>
<rect x="375" y="432" width="3" height="1" fill="#26a69a"/>
<rect x="380" y="432" width="3" height="1" fill="#b2dfdb"/>
<rect x="385" y="432" width="3" height="1" fill="#b2dfdb"/>
<rect x="390" y="432" width="3" height="1" fill="#f04c4c"/>
<rect x="395" y="432" width="3" height="1" fill="#f04c4c"/>
<rect x="399" y="432" width="3" height="1" fill="#f04c4c"/>
<rect x="404" y="432" width="3" height="1" fill="#f04c4c"/>
<rect x="409" y="432" width="3" height="1" fill="#f04c4c"/>
<rect x="414" y="432" width="3" height="1" fill="#f04c4c"/>
<rect x="419" y="432" width="3" height="1" fill="#26a69a"/>
<rect x="423" y="432" width="3" height="1" fill="#26a69a"/>
<rect x="428" y="432" width="3" height="1" fill="#26a69a"/>
<rect x="433" y="432" width="3" height="1" fill="#26a69a"/>
<rect x="438" y="432" width="3" height="1" fill="#26a69a"/>
<rect x="442" y="432" width="3" height="1" fill="#26a69a"/>
<rect x="447" y="432" width="3" height="1" fill="#f04c4c"/>
<rect x="452" y="432" width="3" height="1" fill="#f04c4c"/>
<rect x="457" y="432" width="3" height="1" fill="#f04c4c"/>
<rect x="462" y="432" width="3" height="1" fill="#f04c4c"/>
<rect x="466" y="432" width="3" height="1" fill="#f04c4c"/>
<rect x="471" y="432" width="3" height="1" fill="#f04c4c"/>
<rect x="476" y="432" width="3" height="1" fill="#f04c4c"/>
<rect x="481" y="432" width="3" height="1" fill="#f04c4c"/>
<rect x="486" y="432" width="3" height="1" fill="#26a69a"/>
<rect x="490" y="432" width="3" height="1" fill="#26a69a"/>
<rect x="495" y="432" width="3" height="1" fill="#26a69a"/>
<rect x="500" y="432" width="3" height="1" fill="#26a69a"/>
<rect x="505" y="432" width="3" height="1" fill="#26a69a"/>
<rect x="510" y="432" width="3" height="1" fill="#26a69a"/>
<rect x="514" y="432" width="3" height="1" fill="#26a69a"/>
<rect x="519" y="432" width="3" height="1" fill="#26a69a"/>
<rect x="524" y="432" width="3" height="1" fill="#26a69a"/>
<rect x="529" y="432" width="3" height="1" fill="#26a69a"/>
<rect x="534" y="432" width="3" height="1" fill="#26a69a"/>
<rect x="538" y="432" width="3" height="1" fill="#26a69a"/>
<rect x="543" y="432" width="3" height="1" fill="#26a69a"/>
<rect x="548" y="432" width="3" height="1" fill="#26a69a"/>
<rect x="553" y="432" width="3" height="1" fill="#b2dfdb"/>
<rect x="557" y="431" width="3" height="2" fill="#26a69a"/>
<rect x="562" y="430" width="3" height="3" fill="#26a69a"/>
<rect x="567" y="427" width="3" height="6" fill="#26a69a"/>
<rect x="572" y="426" width="3" height="7" fill="#26a69a"/>
<rect x="577" y="423" width="3" height="10" fill="#26a69a"/>
<rect x="581" y="419" width="3" height="14" fill="#26a69a"/>
<rect x="586" y="419" width="3" height="14" fill="#26a69a"/>
<rect x="591" y="422" width="3" height="11" fill="#b2dfdb"/>
<rect x="596" y="424" width="3" height="9" fill="#b2dfdb"/>
<rect x="601" y="424" width="3" height="9" fill="#b2dfdb"/>
<rect x="605" y="426" width="3" height="7" fill="#b2dfdb"/>
<rect x="610" y="426" width="3" height="7" fill="#b2dfdb"/>
<rect x="615" y="428" width="3" height="5" fill="#b2dfdb"/>
<rect x="620" y="429" width="3" height="4" fill="#b2dfdb"/>
<rect x="625" y="430" width="3" height="3" fill="#b2dfdb"/>
<rect x="629" y="432" width="3" height="2" fill="#f04c4c"/>
<rect x="634" y="432" width="3" height="3" fill="#f04c4c"/>
<rect x="639" y="432" width="3" height="3" fill="#f04c4c"/>
<rect x="644" y="432" width="3" height="4" fill="#f04c4c"/>
<rect x="648" y="432" width="3" height="5" fill="#f04c4c"/>
<rect x="653" y="432" width="3" height="5" fill="#f04c4c"/>
<rect x="658" y="432" width="3" height="6" fill="#f04c4c"/>
<rect x="663" y="432" width="3" height="7" fill="#f04c4c"/>
<rect x="668" y="432" width="3" height="8" fill="#f04c4c"/>
<rect x="672" y="432" width="3" height="8" fill="#f04c4c"/>
<rect x="677" y="432" width="3" height="9" fill="#f04c4c"/>
<rect x="682" y="432" width="3" height="9" fill="#f04c4c"/>
<rect x="687" y="432" width="3" height="7" fill="#ffcdd2"/>
<rect x="692" y="432" width="3" height="6" fill="#ffcdd2"/>
<rect x="696" y="432" width="3" height="4" fill="#ffcdd2"/>
<rect x="701" y="432" width="3" height="4" fill="#ffcdd2"/>
<rect x="706" y="432" width="3" height="4" fill="#ffcdd2"/>
<rect x="711" y="432" width="3" height="4" fill="#f04c4c"/>
<rect x="716" y="432" width="3" height="6" fill="#f04c4c"/>
<rect x="720" y="432" width="3" height="10" fill="#f04c4c"/>
<rect x="725" y="432" width="3" height="11" fill="#f04c4c"/>
<rect x="730" y="432" width="3" height="12" fill="#f04c4c"/>
<rect x="735" y="432" width="3" height="12" fill="#f04c4c"/>
<rect x="739" y="432" width="3" height="12" fill="#ffcdd2"/>
<rect x="744" y="432" width="3" height="12" fill="#ffcdd2"/>
<rect x="749" y="432" width="3" height="11" fill="#ffcdd2"/>
<rect x="754" y="432" width="3" height="11" fill="#ffcdd2"/>
<rect x="759" y="432" width="3" height="10" fill="#ffcdd2"/>
<rect x="763" y="432" width="3" height="8" fill="#ffcdd2"/>
<rect x="768" y="432" width="3" height="7" fill="#ffcdd2"/>
<rect x="773" y="432" width="3" height="6" fill="#ffcdd2"/>
<rect x="778" y="432" width="3" height="4" fill="#ffcdd2"/>
<rect x="783" y="432" width="3" height="3" fill="#ffcdd2"/>
<rect x="787" y="432" width="3" height="2" fill="#ffcdd2"/>
<rect x="792" y="430" width="3" height="3" fill="#26a69a"/>
<rect x="797" y="428" width="3" height="5" fill="#26a69a"/>
<rect x="802" y="427" width="3" height="6" fill="#26a69a"/>
<rect x="807" y="427" width="3" height="6" fill="#26a69a"/>
<rect x="811" y="427" width="3" height="6" fill="#b2dfdb"/>
<rect x="816" y="428" width="3" height="5" fill="#b2dfdb"/>
<rect x="821" y="428" width="3" height="5" fill="#b2dfdb"/>
<rect x="826" y="428" width="3" height="5" fill="#b2dfdb"/>
<rect x="830" y="429" width="3" height="4" fill="#b2dfdb"/>
<rect x="835" y="429" width="3" height="4" fill="#b2dfdb"/>
<rect x="840" y="429" width="3" height="4" fill="#b2dfdb"/>
<rect x="845" y="430" width="3" height="3" fill="#b2dfdb"/>
<rect x="850" y="430" width="3" height="3" fill="#26a69a"/>
<rect x="854" y="430" width="3" height="3" fill="#b2dfdb"/>
<rect x="859" y="430" width="3" height="3" fill="#b2dfdb"/>
<rect x="864" y="431" width="3" height="2" fill="#b2dfdb"/>
<rect x="869" y="431" width="3" height="2" fill="#b2dfdb"/>
<rect x="874" y="431" width="3" height="2" fill="#b2dfdb"/>
<rect x="878" y="431" width="3" height="2" fill="#b2dfdb"/>
<rect x="883" y="431" width="3" height="2" fill="#b2dfdb"/>
<rect x="888" y="432" width="3" height="1" fill="#b2dfdb"/>
<rect x="893" y="432" width="3" height="1" fill="#26a69a"/>
<rect x="898" y="431" width="3" height="2" fill="#26a69a"/>
<rect x="902" y="428" width="3" height="5" fill="#26a69a"/>
<rect x="907" y="425" width="3" height="8" fill="#26a69a"/>
<rect x="912" y="427" width="3" height="6" fill="#b2dfdb"/>
<rect x="917" y="427" width="3" height="6" fill="#b2dfdb"/>
<rect x="921" y="427" width="3" height="6" fill="#b2dfdb"/>
<rect x="926" y="427" width="3" height="6" fill="#26a69a"/>
<rect x="931" y="427" width="3" height="6" fill="#b2dfdb"/>
</g>
<polyline points="8.5,430.9 13.5,430.2 18.5,429.5 23.5,428.7 27.5,428.0 32.5,427.1 37.5,426.0 42.5,424.9 46.5,424.4 51.5,424.1 56.5,423.9 61.5,424.1 66.5,424.4 70.5,424.7 75.5,425.2 80.5,425.7 85.5,425.9 90.5,426.2 94.5,426.4 99.5,426.4 104.5,426.4 109.5,426.6 114.5,426.9 118.5,427.1 123.5,427.8 128.5,428.4 133.5,428.9 137.5,429.2 142.5,429.7 147.5,430.2 152.5,430.7 157.5,431.1 161.5,431.4 166.5,431.6 171.5,431.6 176.5,431.8 181.5,432.2 185.5,432.6 190.5,433.1 195.5,433.7 200.5,434.3 205.5,434.8 209.5,435.2 214.5,435.5 219.5,435.7 224.5,435.8 228.5,435.7 233.5,435.6 238.5,435.4 243.5,435.3 248.5,435.1 252.5,435.1 257.5,435.0 262.5,435.0 267.5,435.0 272.5,435.1 276.5,435.1 281.5,435.0 286.5,435.0 291.5,434.9 296.5,434.9 300.5,434.8 305.5,434.6 310.5,434.5 315.5,434.3 319.5,434.2 324.5,434.0 329.5,433.8 334.5,433.6 339.5,433.4 343.5,433.2 348.5,433.0 353.5,432.8 358.5,432.5 363.5,432.3 367.5,432.1 372.5,431.8 377.5,431.7 382.5,431.7 387.5,431.7 391.5,432.0 396.5,432.4 401.5,432.8 406.5,432.9 410.5,432.9 415.5,432.8 420.5,432.4 425.5,432.1 430.5,431.8 434.5,431.6 439.5,431.5 444.5,431.5 449.5,431.5 454.5,432.0 458.5,432.5 463.5,433.0 468.5,433.1 473.5,433.2 478.5,433.1 482.5,433.1 487.5,433.0 492.5,432.8 497.5,432.7 501.5,432.5 506.5,432.3 511.5,432.1 516.5,431.9 521.5,431.7 525.5,431.6 530.5,431.3 535.5,431.1 540.5,430.7 545.5,430.1 549.5,429.4 554.5,428.9 559.5,428.4 564.5,427.4 569.5,423.8 573.5,421.3 578.5,414.8 583.5,408.9 588.5,405.5 592.5,405.4 597.5,405.3 602.5,403.7 607.5,403.3 612.5,402.2 616.5,402.6 621.5,403.1 626.5,403.6 631.5,406.2 636.5,407.8 640.5,408.7 645.5,410.1 650.5,412.0 655.5,413.8 660.5,415.5 664.5,417.4 669.5,420.1 674.5,422.3 679.5,424.8 683.5,427.0 688.5,426.4 693.5,425.8 698.5,425.4 703.5,425.5 707.5,426.2 712.5,427.9 717.5,430.7 722.5,437.5 727.5,441.3 731.5,443.8 736.5,446.4 741.5,448.9 746.5,451.3 751.5,453.7 755.5,455.6 760.5,456.7 765.5,456.9 770.5,456.9 774.5,456.7 779.5,456.1 784.5,455.1 789.5,453.3 794.5,450.4 798.5,448.1 803.5,445.8 808.5,444.4 813.5,443.3 818.5,442.2 822.5,441.4 827.5,440.9 832.5,440.6 837.5,440.4 842.5,440.0 846.5,439.6 851.5,438.7 856.5,438.3 861.5,438.3 865.5,438.3 870.5,438.1 875.5,437.9 880.5,437.8 885.5,437.7 889.5,437.7 894.5,437.6 899.5,437.1 904.5,432.0 909.5,427.6 913.5,427.1 918.5,426.6 923.5,425.8 928.5,424.2 933.5,422.7" fill="none" stroke="#2196f3" stroke-width="1" stroke-linejoin="round"/>
<polyline points="8.5,431.6 13.5,431.4 18.5,431.1 23.5,430.7 27.5,430.4 32.5,429.9 37.5,429.0 42.5,428.2 46.5,427.6 51.5,426.8 56.5,426.1 61.5,425.7 66.5,425.3 70.5,425.1 75.5,425.1 80.5,425.1 85.5,425.3 90.5,425.6 94.5,425.7 99.5,425.8 104.5,425.8 109.5,426.0 114.5,426.2 118.5,426.3 123.5,426.8 128.5,427.3 133.5,427.7 137.5,428.0 142.5,428.3 147.5,428.7 152.5,429.1 157.5,429.6 161.5,430.0 166.5,430.4 171.5,430.8 176.5,431.2 181.5,431.4 185.5,431.6 190.5,432.0 195.5,432.4 200.5,432.8 205.5,433.4 209.5,433.9 214.5,434.3 219.5,434.6 224.5,434.8 228.5,434.9 233.5,435.0 238.5,435.1 243.5,435.1 248.5,435.1 252.5,435.1 257.5,435.1 262.5,435.1 267.5,435.1 272.5,435.1 276.5,435.1 281.5,435.0 286.5,435.0 291.5,434.9 296.5,434.9 300.5,434.8 305.5,434.7 310.5,434.6 315.5,434.4 319.5,434.4 324.5,434.2 329.5,434.1 334.5,434.0 339.5,433.9 343.5,433.8 348.5,433.6 353.5,433.5 358.5,433.3 363.5,433.1 367.5,433.0 372.5,432.8 377.5,432.7 382.5,432.6 387.5,432.5 391.5,432.4 396.5,432.4 401.5,432.3 406.5,432.3 410.5,432.3 415.5,432.3 420.5,432.3 425.5,432.3 430.5,432.3 434.5,432.2 439.5,432.1 444.5,432.1 449.5,432.0 454.5,432.1 458.5,432.2 463.5,432.3 468.5,432.4 473.5,432.6 478.5,432.6 482.5,432.6 487.5,432.6 492.5,432.6 497.5,432.6 501.5,432.6 506.5,432.6 511.5,432.5 516.5,432.3 521.5,432.2 525.5,432.1 530.5,431.9 535.5,431.7 540.5,431.4 545.5,431.1 549.5,430.9 554.5,430.5 559.5,430.1 564.5,429.6 569.5,428.5 573.5,427.3 578.5,424.7 583.5,421.5 588.5,418.1 592.5,415.7 597.5,413.3 602.5,411.3 607.5,409.6 612.5,408.1 616.5,407.3 621.5,406.6 626.5,406.2 631.5,406.2 636.5,406.6 640.5,406.9 645.5,407.5 650.5,408.2 655.5,409.5 660.5,410.7 664.5,411.9 669.5,413.7 674.5,415.4 679.5,417.4 683.5,418.9 688.5,420.6 693.5,421.6 698.5,422.3 703.5,423.0 707.5,423.6 712.5,424.4 717.5,425.6 722.5,427.9 727.5,430.6 731.5,433.1 736.5,436.3 741.5,439.3 746.5,441.6 751.5,443.9 755.5,446.3 760.5,448.7 765.5,450.5 770.5,451.8 774.5,452.5 779.5,453.1 784.5,453.4 789.5,453.4 794.5,453.0 798.5,452.2 803.5,451.0 808.5,449.6 813.5,448.3 818.5,447.0 822.5,446.0 827.5,444.9 832.5,444.0 837.5,443.2 842.5,442.5 846.5,441.9 851.5,441.3 856.5,440.7 861.5,440.2 865.5,439.8 870.5,439.4 875.5,439.1 880.5,438.8 885.5,438.6 889.5,438.4 894.5,438.3 899.5,437.9 904.5,437.0 909.5,435.0 913.5,433.8 918.5,432.3 923.5,430.8 928.5,429.5 933.5,428.0" fill="none" stroke="#ff6d00" stroke-width="1" stroke-linejoin="round"/>
<rect x="987" y="49" width="4" height="1" fill="#e0e3eb"/>
<text x="994.8" y="53.7" font-size="12.6" fill="#131722" textLength="61.4" lengthAdjust="spacingAndGlyphs">1.10000000</text>
<rect x="987" y="80" width="4" height="1" fill="#e0e3eb"/>
<text x="994.8" y="84.7" font-size="12.6" fill="#131722" textLength="61.4" lengthAdjust="spacingAndGlyphs">0.90000000</text>
<rect x="987" y="118" width="4" height="1" fill="#e0e3eb"/>
<text x="994.8" y="122.7" font-size="12.6" fill="#131722" textLength="61.4" lengthAdjust="spacingAndGlyphs">0.70000000</text>
<rect x="987" y="156" width="4" height="1" fill="#e0e3eb"/>
<text x="994.8" y="160.7" font-size="12.6" fill="#131722" textLength="61.4" lengthAdjust="spacingAndGlyphs">0.55000000</text>
<rect x="987" y="225" width="4" height="1" fill="#e0e3eb"/>
<text x="994.8" y="229.7" font-size="12.6" fill="#131722" textLength="61.4" lengthAdjust="spacingAndGlyphs">0.35000000</text>
<rect x="987" y="265" width="4" height="1" fill="#e0e3eb"/>
<text x="994.8" y="269.7" font-size="12.6" fill="#131722" textLength="61.4" lengthAdjust="spacingAndGlyphs">0.27000000</text>
<rect x="987" y="304" width="4" height="1" fill="#e0e3eb"/>
<text x="994.8" y="308.7" font-size="12.6" fill="#131722" textLength="61.4" lengthAdjust="spacingAndGlyphs">0.21000000</text>
<rect x="987" y="336" width="4" height="1" fill="#e0e3eb"/>
<text x="994.8" y="340.7" font-size="12.6" fill="#131722" textLength="61.4" lengthAdjust="spacingAndGlyphs">0.17000000</text>
<rect x="987" y="372" width="4" height="1" fill="#e0e3eb"/>
<text x="994.8" y="376.7" font-size="12.6" fill="#131722" textLength="61.4" lengthAdjust="spacingAndGlyphs">0.13500000</text>
<rect x="987" y="402" width="4" height="1" fill="#e0e3eb"/>
<text x="994.8" y="406.7" font-size="12.6" fill="#131722" textLength="61.4" lengthAdjust="spacingAndGlyphs">0.10000000</text>
<rect x="987" y="432" width="4" height="1" fill="#e0e3eb"/>
<text x="994.8" y="436.7" font-size="12.6" fill="#131722" textLength="61.4" lengthAdjust="spacingAndGlyphs">0.00000000</text>
<rect x="1010.5" y="50.5" width="31" height="19" rx="3.5" fill="#fff" stroke="#d1d4dc" stroke-width="1"/>
<text x="1016.0" y="62.8" font-size="12.6" fill="#131722" textLength="20.4" lengthAdjust="spacingAndGlyphs">USD</text>
<rect x="986" y="179" width="79" height="19" fill="#26a69a"/>
<rect x="986" y="188" width="4" height="1" fill="#fff"/>
<text x="994.7" y="192.5" font-size="12" font-weight="bold" fill="#fff" textLength="61.5" lengthAdjust="spacingAndGlyphs">0.44702879</text>
<rect x="1006" y="199" width="59" height="19" fill="#26a69a"/>
<text x="1010.8" y="212.8" font-size="12" font-weight="bold" fill="#fff" textLength="45.4" lengthAdjust="spacingAndGlyphs">19:17:57</text>
<text x="15.2" y="65" font-size="12.3" font-weight="bold" fill="#131722" textLength="21.9" lengthAdjust="spacingAndGlyphs">XRP</text>
<text x="42.9" y="65" font-size="12.3" font-weight="bold" fill="#131722">/</text>
<text x="50.6" y="65" font-size="12.3" font-weight="bold" fill="#131722" textLength="23.1" lengthAdjust="spacingAndGlyphs">U.S.</text>
<text x="78.1" y="65" font-size="12.3" font-weight="bold" fill="#131722" textLength="35.6" lengthAdjust="spacingAndGlyphs">Dollar,</text>
<text x="119.3" y="65" font-size="12.3" font-weight="bold" fill="#131722" textLength="17.7" lengthAdjust="spacingAndGlyphs">1D,</text>
<text x="142.7" y="65" font-size="12.3" font-weight="bold" fill="#131722" textLength="50.6" lengthAdjust="spacingAndGlyphs">BINANCE</text>
<text x="15.2" y="82" font-size="12.3" fill="#131722" textLength="9.5" lengthAdjust="spacingAndGlyphs">TI</text>
<text x="15.2" y="99" font-size="12.3" fill="#131722" textLength="17.5" lengthAdjust="spacingAndGlyphs">Vol</text>
<text x="15.2" y="116" font-size="12.3" fill="#131722" textLength="53" lengthAdjust="spacingAndGlyphs">Lucid SAR</text>
<text x="15.2" y="416" font-size="12.3" fill="#131722" textLength="35" lengthAdjust="spacingAndGlyphs">MACD</text>
<rect x="32" y="464" width="1" height="3" fill="#e0e3eb"/>
<text x="22.4" y="482.8" font-size="11.5" fill="#131722" textLength="19.6" lengthAdjust="spacingAndGlyphs">Aug</text>
<rect x="181" y="464" width="1" height="3" fill="#e0e3eb"/>
<text x="170.9" y="482.8" font-size="11.5" fill="#131722" textLength="19.5" lengthAdjust="spacingAndGlyphs">Sep</text>
<rect x="324" y="464" width="1" height="3" fill="#e0e3eb"/>
<text x="315.3" y="482.8" font-size="11.5" fill="#131722" textLength="18.3" lengthAdjust="spacingAndGlyphs">Oct</text>
<rect x="473" y="464" width="1" height="3" fill="#e0e3eb"/>
<text x="463.0" y="482.8" font-size="11.5" fill="#131722" textLength="20.0" lengthAdjust="spacingAndGlyphs">Nov</text>
<rect x="616" y="464" width="1" height="3" fill="#e0e3eb"/>
<text x="607.0" y="482.8" font-size="11.5" fill="#131722" textLength="19.1" lengthAdjust="spacingAndGlyphs">Dec</text>
<rect x="765" y="464" width="1" height="3" fill="#e0e3eb"/>
<text x="751.6" y="482.8" font-size="11.5" font-weight="bold" fill="#131722" textLength="26.2" lengthAdjust="spacingAndGlyphs">2021</text>
<rect x="913" y="464" width="1" height="3" fill="#e0e3eb"/>
<text x="903.7" y="482.8" font-size="11.5" fill="#131722" textLength="19.3" lengthAdjust="spacingAndGlyphs">Feb</text>
<g transform="translate(6,503)"><path d="M5 15 C2 15 0 13 0 10.4 C0 8 1.8 6.2 4.4 5.9 C5 2.5 7.8 0 11.3 0 C14.2 0 16.5 1.7 17.4 4.2 C18.5 3.7 19.8 3.6 21 3.8 C24 4.2 26.1 6.8 26.1 9.8 C26.1 12.8 24 15 21 15 Z" fill="#2196f3"/><path d="M0.9 13 L9.6 5.6 L15.9 11.4 L22.3 4.4" fill="none" stroke="#fff" stroke-width="1.2"/><circle cx="9.6" cy="5.6" r="1.9" fill="#fff"/><circle cx="15.9" cy="11.4" r="1.9" fill="#fff"/></g>
<text x="34.2" y="514.8" font-size="12.8" fill="#131722" textLength="70.6" lengthAdjust="spacingAndGlyphs">TradingView</text>
</svg>
</body>
</html>
